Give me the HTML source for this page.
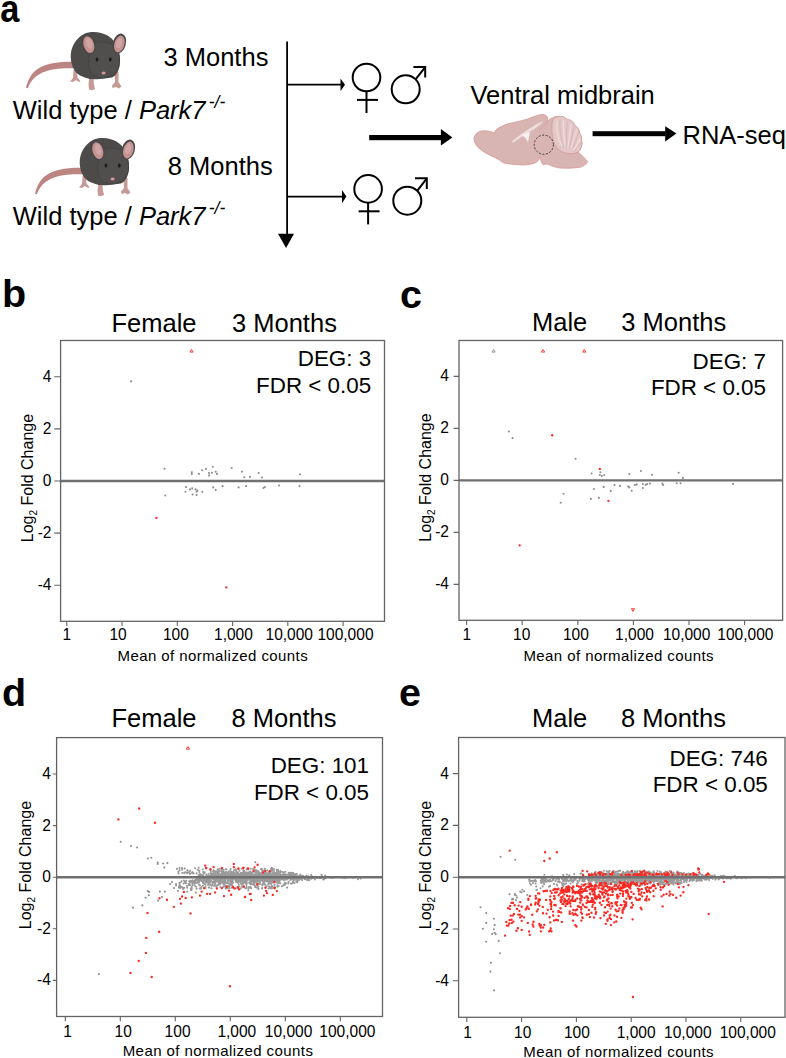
<!DOCTYPE html>
<html><head><meta charset="utf-8"><style>
html,body{margin:0;padding:0;background:#fff;overflow:hidden;width:786px;height:1058px;}
svg{display:block;font-family:"Liberation Sans", sans-serif;}
</style></head><body>
<svg width="786" height="1058" viewBox="0 0 786 1058">

<defs>
<g id="mouse">
  <path d="M73,61.8 C61,61.5 49,63 40,67.5 C32.5,71.5 28,79 26,87.8 L27.9,88.2 C30.5,81 35,76 42.5,72.5 C51,68.8 61,68 73,68.3 Z" fill="#bd8582"/>
  <path d="M73.5,70 L77,70 L77.5,77.5 L80.5,81 L79,82 L76,80 L73,82 L70,81.5 L73,78 Z" fill="#c69a96"/>
  <path d="M89.5,76 L93.5,76 L93.8,83.5 L95,89 L92,90.3 L89,89.5 L88.5,84 Z" fill="#c69a96"/>
  <path d="M114.5,72 L118.5,72 L118.5,82 L121.5,86.5 L119,88.5 L116,87 L112.5,88 L112,85.5 L115,82 Z" fill="#c69a96"/>
  <path d="M88.6,72 L94,72 L94,79 L89,79 Z" fill="#4a4846"/>
  <path d="M93.8,32 C104,32 112,37 115,43 C119,49 120.5,56 120,62 C119.5,70 117,75 112,77.5 L100,79 C92,80 86,78.5 80,75.5 C74,72 71,65 70.7,57 C70.5,47 76,38 84,34 C87,32.5 90,32 93.8,32 Z" fill="#4d4b49"/>
  <path d="M95,42.5 C101,41.5 108,42 113,44.5 C118,49 120,56 119.5,63 C119,71 113,77 104,78 C97,78.5 92,75 90,70 C88,65 88.5,59 89.5,55 C90.5,49 92,44 95,42.5 Z" fill="#514f4d" stroke="#3f3d3b" stroke-width="0.6"/>
  <ellipse cx="0" cy="0" rx="6.9" ry="10.3" fill="#4a4846" transform="translate(88.6,44.2) rotate(-16)"/>
  <ellipse cx="0" cy="0" rx="5.2" ry="8.6" fill="#c39291" transform="translate(88.8,44.6) rotate(-16)"/>
  <ellipse cx="0" cy="0" rx="3" ry="5.5" fill="#d0a5a4" transform="translate(89.2,43.5) rotate(-16)"/>
  <ellipse cx="0" cy="0" rx="6.5" ry="10.3" fill="#4a4846" transform="translate(119.3,43.6) rotate(16)"/>
  <ellipse cx="0" cy="0" rx="5" ry="8.6" fill="#c39291" transform="translate(119.4,44) rotate(16)"/>
  <ellipse cx="0" cy="0" rx="2.9" ry="5.5" fill="#d0a5a4" transform="translate(119.2,43) rotate(16)"/>
  <ellipse cx="97" cy="59.6" rx="1.4" ry="2.1" fill="#1c1c1c"/>
  <ellipse cx="110.3" cy="59.6" rx="1.4" ry="2.1" fill="#1c1c1c"/>
  <ellipse cx="103.6" cy="73" rx="2.1" ry="1.6" fill="#d39494"/>
</g>
<g id="sym" fill="none" stroke="#000" stroke-width="2">
  <circle cx="366.5" cy="77.5" r="13.8"/>
  <line x1="366.5" y1="91.3" x2="366.5" y2="113"/>
  <line x1="357" y1="99.9" x2="378" y2="99.9"/>
  <circle cx="405.7" cy="89.3" r="14"/>
  <line x1="415.6" y1="79.4" x2="425" y2="67.3"/>
  <polyline points="413.4,66.9 425.2,66.9 425.2,77.5"/>
</g>
<g id="brain">
  <path d="M474,138.5 C474.5,134 478.5,131 483.2,130.8 C487.5,130.5 491,131.5 494.4,133 C495,130.5 496.5,128.8 499,127.8 C503,125.5 507,124 510.7,123.2 C516,122 521.5,120.8 527,119.2 C532,117.5 537,115 541.2,114.6 C544.5,114.3 547,115.5 547.6,117.8 C548,119.5 547.5,121 546.6,122.3 C548.5,120 550.5,118.5 552.5,118 C554,117 556,116.3 558.9,116.3 C563,116.5 566,118 568,120.5 C571.5,121.5 574,123.5 575,126.8 C578,128.5 579.3,130.8 579.3,133.1 C581,135 581.6,137.5 581.3,140.1 C582,142.5 582,144.5 581.3,146.4 C581,149 579.5,151 577.8,152 C581,154.5 584.5,157.5 587.6,161.8 C585.5,165 582.5,167 579.2,167.4 C573,168.2 567,168.3 561,168.1 C557,167.8 553.5,166.8 550.5,165.3 C548,164 545.5,163.5 543.3,164.9 C541.5,163.5 540.5,160 540.2,156.8 C539,159.5 537.5,162 535.1,162.9 C530.5,164.5 525.5,165.2 520.9,164.9 C515,164.7 509,164 503.6,162.9 C500.5,161 498,159 495.4,157.8 C491,155.8 486,153.5 482.2,150.7 C478,148 474,143.5 474,138.5 Z" fill="#d8b4b2" stroke="#d69896" stroke-width="0.8"/>
  <path d="M546.6,122.3 C544.5,125 542,128 539.2,130.3" fill="none" stroke="#d39a98" stroke-width="0.7"/>
  <path d="M552,127 C551.5,122 553,118.5 557,116.8 C561,115.5 565,117 567.5,119.5 C571,119.5 574,122 575,125.5 C578,127 579.5,130 579.5,133 C581.5,135 582,138 581.5,140.5 C582.5,143 582,146 581,147.5 C580.5,150 579,152 577,152.5 C574,154 570,154 567.5,153.3 C563,153 560,151 558.5,149 C555,146 553.5,142 553,139 C552,135 551.8,131 552,127 Z" fill="#e2c8c7" stroke="#d69896" stroke-width="0.8"/>
  <g stroke="#ecdcdb" stroke-width="1.3" fill="none" stroke-linecap="round">
    <path d="M562,146 C558,139 556,130 557,121"/>
    <path d="M565,146 C564,137 563,128 563.5,121"/>
    <path d="M568,147 C569,139 570,131 571,124"/>
    <path d="M571,148 C573,142 575,135 576.5,130"/>
    <path d="M573,150 C576,147 578.5,143 579.5,139"/>
  </g>
  <g stroke="#d7a9a7" stroke-width="0.6" fill="none" stroke-linecap="round">
    <path d="M563.5,147 C561,139 559.5,130 560,120"/>
    <path d="M566.5,147 C566.5,139 566.5,130 567.5,121"/>
    <path d="M569.5,148 C571,141 573,133 574,126"/>
    <path d="M572,149 C574.5,144 577,138 578.5,133"/>
    <path d="M574,151 C577,149 579.5,146 580.5,143"/>
  </g>
  <path d="M511.7,141.5 C517,137 524,132 531,127.5 C536,124.5 540,122 543.3,121.2 C541.5,123.8 538,126.5 533.5,129.5 C526,134 519,138.5 513.5,142.8 Z" fill="#ebdedd"/>
  <path d="M520.9,134.9 L530,131.9 L528,142.5 C527,139 524.5,136.5 520.9,134.9 Z" fill="#f7efef"/>
  <circle cx="543.8" cy="144.7" r="9.6" fill="none" stroke="#333" stroke-width="0.9" stroke-dasharray="2.1,1.5"/>
</g>
</defs>

<text x="0" y="21.8" font-size="39.5" font-weight="bold" transform="translate(0.2,0) scale(0.87,1)">a</text>
<use href="#mouse" x="0" y="0"/>
<use href="#mouse" x="9" y="106"/>
<text x="163.50" y="66.30" font-size="25.5" text-anchor="start" font-weight="normal" font-style="normal" fill="#000" >3 Months</text>
<text x="167.80" y="174.90" font-size="25.5" text-anchor="start" font-weight="normal" font-style="normal" fill="#000" >8 Months</text>
<text x="12.8" y="119.0" font-size="25.5">Wild type / <tspan font-style="italic">Park7</tspan><tspan font-style="italic" font-size="17.5" dy="-11" dx="3.2">-/-</tspan></text>
<text x="12.8" y="224.8" font-size="25.5">Wild type / <tspan font-style="italic">Park7</tspan><tspan font-style="italic" font-size="17.5" dy="-11" dx="3.2">-/-</tspan></text>
<g stroke="#000" stroke-width="1.8" fill="none">
<line x1="287.1" y1="41.6" x2="287.1" y2="236"/>
<line x1="287.1" y1="84.7" x2="341" y2="84.7"/>
<line x1="287.1" y1="196.6" x2="342.5" y2="196.6"/>
</g>
<polygon points="278,233.7 294,233.7 286.1,248" fill="#000"/>
<polygon points="340.5,78.5 345,84.7 340.5,91" fill="#000"/>
<polygon points="342,190.1 346.4,196.6 342,203.3" fill="#000"/>
<use href="#sym" x="0" y="0"/>
<use href="#sym" x="1.6" y="111.4"/>
<rect x="369.2" y="135" width="72" height="5.2" fill="#000"/>
<polygon points="440.9,129.1 452.4,137.5 440.9,145.4" fill="#000"/>
<rect x="592.6" y="131.2" width="73" height="5" fill="#000"/>
<polygon points="665.2,126.2 676.4,133.6 665.2,141.4" fill="#000"/>
<text x="470.50" y="104.00" font-size="25.5" text-anchor="start" font-weight="normal" font-style="normal" fill="#000" >Ventral midbrain</text>
<text x="682.50" y="144.00" font-size="25.5" text-anchor="start" font-weight="normal" font-style="normal" fill="#000" >RNA-seq</text>
<use href="#brain"/>
<text x="2.0" y="307.0" font-size="39.5" font-weight="bold">b</text>
<text x="111.50" y="331.70" font-size="25.5" text-anchor="start" font-weight="normal" font-style="normal" fill="#000" >Female</text>
<text x="232.00" y="331.70" font-size="25.5" text-anchor="start" font-weight="normal" font-style="normal" fill="#000" >3 Months</text>
<clipPath id="clipb"><rect x="60.6" y="340.5" width="323.9" height="280.79999999999995"/></clipPath>
<g clip-path="url(#clipb)">
<path d="M131.1,381.4h0M164.5,468.7h0M191.8,472.2h0M191.8,474.1h0M198.9,473.9h0M202.1,470.3h0M206.0,468.9h0M209.0,473.1h0M209.0,475.6h0M211.9,472.7h0M212.8,466.8h0M215.7,471.8h0M217.0,473.9h0M231.7,468.0h0M242.0,471.6h0M244.3,477.3h0M250.0,476.9h0M258.6,473.1h0M262.1,477.5h0M300.0,474.3h0M165.3,495.5h0M185.5,491.8h0M186.1,487.1h0M189.9,489.4h0M192.2,488.4h0M192.6,494.5h0M195.5,489.4h0M196.6,491.8h0M197.4,490.5h0M196.6,495.1h0M202.3,491.8h0M213.2,487.4h0M215.7,489.9h0M222.7,486.1h0M238.6,487.4h0M246.0,486.1h0M263.4,488.0h0M264.9,487.1h0M279.0,485.5h0M299.5,486.1h0" stroke="#8e8e8e" stroke-width="2.1" stroke-linecap="round" fill="none"/>
<path d="M156.4,517.8h0M226.3,587.3h0" stroke="#fa2a22" stroke-width="2.35" stroke-linecap="round" fill="none"/>
<polygon points="189.9,352.1 193.1,352.1 191.5,349.4" fill="none" stroke="#fa2a22" stroke-width="0.9"/>
<line x1="60.6" y1="481.0" x2="384.5" y2="481.0" stroke="#707070" stroke-width="2.4"/>
</g>
<rect x="60.6" y="340.5" width="323.9" height="280.79999999999995" fill="none" stroke="#646464" stroke-width="1.3"/>
<text x="51.50" y="590.20" font-size="16.2" text-anchor="end" font-weight="normal" font-style="normal" fill="#000" transform="translate(2.06,0) scale(0.96,1)">-4</text>
<text x="51.50" y="538.10" font-size="16.2" text-anchor="end" font-weight="normal" font-style="normal" fill="#000" transform="translate(2.06,0) scale(0.96,1)">-2</text>
<text x="51.50" y="486.00" font-size="16.2" text-anchor="end" font-weight="normal" font-style="normal" fill="#000" transform="translate(2.06,0) scale(0.96,1)">0</text>
<text x="51.50" y="433.90" font-size="16.2" text-anchor="end" font-weight="normal" font-style="normal" fill="#000" transform="translate(2.06,0) scale(0.96,1)">2</text>
<text x="51.50" y="381.80" font-size="16.2" text-anchor="end" font-weight="normal" font-style="normal" fill="#000" transform="translate(2.06,0) scale(0.96,1)">4</text>
<text x="65.10" y="640.20" font-size="16.2" text-anchor="start" font-weight="normal" font-style="normal" fill="#000" transform="scale(0.96,1)">1</text>
<text x="113.96" y="640.20" font-size="16.2" text-anchor="start" font-weight="normal" font-style="normal" fill="#000" transform="scale(0.96,1)">10</text>
<text x="169.69" y="640.20" font-size="16.2" text-anchor="start" font-weight="normal" font-style="normal" fill="#000" transform="scale(0.96,1)">100</text>
<text x="222.92" y="640.20" font-size="16.2" text-anchor="start" font-weight="normal" font-style="normal" fill="#000" transform="scale(0.96,1)">1,000</text>
<text x="276.56" y="640.20" font-size="16.2" text-anchor="start" font-weight="normal" font-style="normal" fill="#000" transform="scale(0.96,1)">10,000</text>
<text x="330.62" y="640.20" font-size="16.2" text-anchor="start" font-weight="normal" font-style="normal" fill="#000" transform="scale(0.96,1)">100,000</text>
<path d="M54.3,585.2H60.6M54.3,533.1H60.6M54.3,481.0H60.6M54.3,428.9H60.6M54.3,376.8H60.6M66.8,621.3V626.0M122.0,621.3V626.0M177.3,621.3V626.0M232.6,621.3V626.0M287.8,621.3V626.0M343.1,621.3V626.0" stroke="#646464" stroke-width="1.1" fill="none"/>
<text x="117.50" y="661.20" font-size="15.0" text-anchor="start" font-weight="normal" font-style="normal" fill="#000" textLength="190.2" lengthAdjust="spacing">Mean of normalized counts</text>
<text transform="translate(33.2,478.1) rotate(-90)" x="0" y="0" font-size="16" text-anchor="middle">Log<tspan font-size="10" dy="4">2</tspan><tspan dy="-4"> Fold Change</tspan></text>
<text x="371.20" y="366.20" font-size="22.4" text-anchor="end" font-weight="normal" font-style="normal" fill="#000" >DEG: 3</text>
<text x="371.20" y="392.80" font-size="22.4" text-anchor="end" font-weight="normal" font-style="normal" fill="#000" >FDR &lt; 0.05</text>
<text x="400.0" y="307.5" font-size="39.5" font-weight="bold">c</text>
<text x="532.00" y="330.90" font-size="25.5" text-anchor="start" font-weight="normal" font-style="normal" fill="#000" >Male</text>
<text x="621.30" y="330.90" font-size="25.5" text-anchor="start" font-weight="normal" font-style="normal" fill="#000" >3 Months</text>
<clipPath id="clipc"><rect x="459" y="340.5" width="323.6" height="279.79999999999995"/></clipPath>
<g clip-path="url(#clipc)">
<path d="M508.9,431.5h0M512.6,438.1h0M575.6,458.8h0M600.4,472.2h0M591.6,473.5h0M599.8,475.0h0M601.8,476.0h0M604.2,475.0h0M629.4,474.1h0M640.9,471.0h0M651.9,474.7h0M678.7,472.7h0M682.9,477.9h0M563.6,493.7h0M560.7,502.7h0M593.9,489.0h0M590.9,498.9h0M598.9,497.9h0M603.7,486.9h0M610.7,490.9h0M614.5,485.0h0M619.9,485.9h0M628.1,486.5h0M629.4,487.4h0M631.7,490.7h0M634.8,485.0h0M636.7,484.4h0M642.8,484.0h0M642.8,488.0h0M645.6,485.0h0M647.2,484.0h0M650.0,483.6h0M662.4,483.6h0M663.2,485.0h0M676.8,483.2h0M680.6,483.2h0M733.1,483.9h0" stroke="#8e8e8e" stroke-width="2.1" stroke-linecap="round" fill="none"/>
<path d="M552.2,435.2h0M599.8,468.9h0M608.4,500.8h0M519.6,545.3h0" stroke="#fa2a22" stroke-width="2.35" stroke-linecap="round" fill="none"/>
<polygon points="492.0,352.1 495.2,352.1 493.6,349.4" fill="none" stroke="#8e8e8e" stroke-width="0.9"/>
<polygon points="541.5,352.1 544.7,352.1 543.1,349.4" fill="none" stroke="#fa2a22" stroke-width="0.9"/>
<polygon points="582.7,352.1 585.9,352.1 584.3,349.4" fill="none" stroke="#fa2a22" stroke-width="0.9"/>
<polygon points="631.4,608.7 634.6,608.7 633.0,611.4" fill="none" stroke="#fa2a22" stroke-width="0.9"/>
<line x1="459" y1="480.4" x2="782.6" y2="480.4" stroke="#707070" stroke-width="2.4"/>
</g>
<rect x="459" y="340.5" width="323.6" height="279.79999999999995" fill="none" stroke="#646464" stroke-width="1.3"/>
<text x="449.00" y="589.40" font-size="16.2" text-anchor="end" font-weight="normal" font-style="normal" fill="#000" transform="translate(17.96,0) scale(0.96,1)">-4</text>
<text x="449.00" y="537.40" font-size="16.2" text-anchor="end" font-weight="normal" font-style="normal" fill="#000" transform="translate(17.96,0) scale(0.96,1)">-2</text>
<text x="449.00" y="485.40" font-size="16.2" text-anchor="end" font-weight="normal" font-style="normal" fill="#000" transform="translate(17.96,0) scale(0.96,1)">0</text>
<text x="449.00" y="433.40" font-size="16.2" text-anchor="end" font-weight="normal" font-style="normal" fill="#000" transform="translate(17.96,0) scale(0.96,1)">2</text>
<text x="449.00" y="381.40" font-size="16.2" text-anchor="end" font-weight="normal" font-style="normal" fill="#000" transform="translate(17.96,0) scale(0.96,1)">4</text>
<text x="481.77" y="640.20" font-size="16.2" text-anchor="start" font-weight="normal" font-style="normal" fill="#000" transform="scale(0.96,1)">1</text>
<text x="534.38" y="640.20" font-size="16.2" text-anchor="start" font-weight="normal" font-style="normal" fill="#000" transform="scale(0.96,1)">10</text>
<text x="586.35" y="640.20" font-size="16.2" text-anchor="start" font-weight="normal" font-style="normal" fill="#000" transform="scale(0.96,1)">100</text>
<text x="640.73" y="640.20" font-size="16.2" text-anchor="start" font-weight="normal" font-style="normal" fill="#000" transform="scale(0.96,1)">1,000</text>
<text x="690.52" y="640.20" font-size="16.2" text-anchor="start" font-weight="normal" font-style="normal" fill="#000" transform="scale(0.96,1)">10,000</text>
<text x="747.19" y="640.20" font-size="16.2" text-anchor="start" font-weight="normal" font-style="normal" fill="#000" transform="scale(0.96,1)">100,000</text>
<path d="M453.6,584.4H459M453.6,532.4H459M453.6,480.4H459M453.6,428.4H459M453.6,376.4H459M466.6,620.3V625.0M522.2,620.3V625.0M577.8,620.3V625.0M633.4,620.3V625.0M689.0,620.3V625.0M744.6,620.3V625.0" stroke="#646464" stroke-width="1.1" fill="none"/>
<text x="523.40" y="661.30" font-size="15.0" text-anchor="start" font-weight="normal" font-style="normal" fill="#000" textLength="190.2" lengthAdjust="spacing">Mean of normalized counts</text>
<text transform="translate(431.2,477.5) rotate(-90)" x="0" y="0" font-size="16" text-anchor="middle">Log<tspan font-size="10" dy="4">2</tspan><tspan dy="-4"> Fold Change</tspan></text>
<text x="766.00" y="368.80" font-size="22.4" text-anchor="end" font-weight="normal" font-style="normal" fill="#000" >DEG: 7</text>
<text x="766.00" y="395.10" font-size="22.4" text-anchor="end" font-weight="normal" font-style="normal" fill="#000" >FDR &lt; 0.05</text>
<text x="2.0" y="705.5" font-size="39.5" font-weight="bold">d</text>
<text x="111.50" y="726.50" font-size="25.5" text-anchor="start" font-weight="normal" font-style="normal" fill="#000" >Female</text>
<text x="231.60" y="726.50" font-size="25.5" text-anchor="start" font-weight="normal" font-style="normal" fill="#000" >8 Months</text>
<clipPath id="clipd"><rect x="56.6" y="737.6" width="325.9" height="278.9"/></clipPath>
<g clip-path="url(#clipd)">
<path d="M289.8,877.3h0M250.9,874.6h0M206.3,876.0h0M250.2,880.4h0M235.4,878.0h0M221.0,881.3h0M323.3,879.5h0M301.7,878.7h0M189.4,871.9h0M272.2,876.7h0M205.4,884.7h0M230.6,872.9h0M233.1,879.2h0M234.6,878.0h0M268.8,872.9h0M210.6,879.0h0M269.2,882.1h0M270.9,877.2h0M300.4,878.7h0M230.9,879.4h0M239.0,886.6h0M198.1,881.9h0M265.6,888.0h0M225.0,878.3h0M249.1,878.5h0M215.8,876.5h0M274.6,875.9h0M223.3,879.1h0M275.7,875.1h0M203.9,880.1h0M236.7,874.9h0M231.4,878.1h0M283.3,875.8h0M280.6,876.3h0M304.9,877.1h0M249.1,874.1h0M294.7,878.2h0M284.3,874.6h0M263.5,876.5h0M239.7,881.8h0M250.7,877.4h0M215.1,882.9h0M268.7,880.9h0M232.6,882.1h0M231.4,881.5h0M213.3,874.0h0M281.8,876.4h0M201.7,874.5h0M245.3,876.5h0M280.6,875.3h0M296.5,876.2h0M257.0,877.0h0M283.3,877.3h0M316.9,878.0h0M269.2,871.7h0M226.1,876.8h0M192.6,880.4h0M292.3,879.0h0M269.2,880.7h0M281.1,871.8h0M242.8,878.8h0M212.2,878.8h0M272.1,869.3h0M203.2,875.2h0M221.8,872.6h0M216.8,878.2h0M233.9,879.5h0M230.7,883.6h0M273.8,873.0h0M242.2,879.4h0M223.6,880.8h0M264.4,874.1h0M276.7,869.9h0M252.6,878.5h0M232.9,882.5h0M215.1,876.4h0M210.3,881.0h0M238.7,879.2h0M212.3,882.9h0M221.8,879.3h0M214.0,879.4h0M269.1,874.4h0M214.2,885.9h0M284.6,877.4h0M280.9,875.2h0M273.0,876.7h0M227.5,873.0h0M198.2,879.4h0M237.4,879.8h0M294.8,877.6h0M259.9,883.9h0M258.9,875.2h0M250.1,876.4h0M282.9,872.1h0M274.1,873.1h0M228.3,880.2h0M263.7,875.2h0M225.6,873.8h0M239.2,881.5h0M269.2,876.2h0M253.3,877.1h0M224.9,878.2h0M250.6,877.5h0M229.8,883.5h0M212.3,878.0h0M288.5,882.2h0M305.0,878.0h0M304.3,878.1h0M237.8,876.3h0M275.6,881.2h0M252.2,877.5h0M263.2,878.8h0M223.3,876.4h0M295.4,876.3h0M257.7,887.5h0M273.4,873.4h0M264.7,884.4h0M206.2,881.8h0M295.6,878.4h0M265.0,873.0h0M244.7,874.1h0M262.7,876.1h0M252.2,875.8h0M216.2,880.4h0M213.6,881.5h0M274.4,877.4h0M282.4,878.2h0M231.7,879.6h0M252.5,883.8h0M252.4,877.5h0M285.1,875.8h0M216.9,876.6h0M223.8,870.0h0M284.3,874.4h0M242.0,880.3h0M196.9,879.0h0M244.5,874.6h0M225.6,881.9h0M265.9,877.9h0M262.8,878.8h0M227.9,878.2h0M243.8,872.7h0M213.7,878.5h0M215.2,879.4h0M274.0,881.1h0M239.8,875.3h0M286.0,877.8h0M226.4,869.3h0M211.6,885.7h0M225.9,878.9h0M278.2,877.8h0M269.2,872.8h0M294.5,883.0h0M221.2,873.9h0M228.6,874.5h0M266.0,877.4h0M263.2,879.2h0M269.6,874.9h0M263.0,881.6h0M234.8,878.9h0M243.2,872.4h0M313.6,878.0h0M278.9,877.3h0M192.8,873.2h0M274.4,878.2h0M239.0,876.8h0M282.9,877.7h0M213.8,882.6h0M258.8,876.5h0M259.2,873.4h0M251.4,873.9h0M280.4,883.3h0M264.8,869.7h0M279.5,876.9h0M300.3,875.9h0M272.2,880.0h0M304.5,877.5h0M235.6,875.5h0M240.3,877.9h0M293.1,872.7h0M235.0,879.1h0M287.5,879.2h0M294.0,874.0h0M251.7,881.1h0M292.0,874.7h0M214.3,876.7h0M269.6,874.0h0M206.3,880.3h0M266.5,875.1h0M192.1,882.4h0M245.0,876.7h0M262.8,881.4h0M259.3,877.0h0M245.5,879.4h0M252.1,880.8h0M252.8,879.6h0M275.8,872.8h0M245.3,875.0h0M291.3,874.7h0M314.8,877.3h0M310.3,877.4h0M285.5,875.7h0M233.3,873.8h0M238.0,874.5h0M268.6,888.5h0M239.2,875.5h0M278.1,881.3h0M278.8,881.7h0M247.9,875.4h0M224.4,877.5h0M318.6,877.5h0M250.5,871.6h0M237.1,877.9h0M288.3,874.5h0M237.7,876.6h0M302.7,877.2h0M219.9,874.7h0M265.5,881.2h0M206.2,880.1h0M211.2,874.6h0M212.9,882.4h0M232.6,873.9h0M255.5,875.8h0M293.1,873.3h0M292.8,882.0h0M311.0,877.5h0M265.4,880.1h0M281.1,877.3h0M227.8,879.1h0M267.2,875.2h0M261.1,879.3h0M225.7,888.4h0M202.4,879.3h0M280.2,878.8h0M220.2,884.5h0M234.6,874.2h0M270.7,887.2h0M293.7,874.9h0M277.0,877.9h0M194.6,885.5h0M255.8,878.9h0M256.6,887.5h0M271.0,869.1h0M273.1,881.0h0M236.0,878.5h0M274.9,879.2h0M234.2,877.8h0M259.9,876.0h0M233.5,873.8h0M258.6,881.3h0M253.3,884.7h0M261.3,878.1h0M240.1,874.7h0M256.8,880.5h0M237.5,872.2h0M252.7,874.8h0M204.7,880.8h0M289.5,873.1h0M195.4,882.3h0M221.3,876.2h0M277.5,886.6h0M263.7,876.9h0M237.0,874.6h0M200.1,878.6h0M264.3,875.3h0M268.3,881.3h0M319.4,878.1h0M267.0,873.3h0M257.3,878.2h0M255.7,877.8h0M292.4,876.3h0M256.9,878.5h0M314.9,879.5h0M203.6,878.1h0M210.5,870.2h0M272.3,876.0h0M258.4,878.1h0M208.5,876.1h0M284.8,879.3h0M232.1,877.2h0M285.4,875.9h0M225.9,869.1h0M271.3,884.0h0M245.4,879.8h0M256.5,870.4h0M236.2,870.5h0M260.2,880.1h0M311.2,878.1h0M286.3,876.7h0M236.0,880.0h0M250.9,879.7h0M274.8,874.3h0M237.1,878.8h0M281.7,879.3h0M238.9,877.2h0M222.2,876.9h0M259.0,881.1h0M277.3,879.9h0M259.1,881.2h0M216.6,885.6h0M245.4,875.0h0M252.1,879.4h0M244.3,877.6h0M222.7,882.8h0M255.3,879.0h0M216.0,871.2h0M265.6,877.3h0M195.9,879.6h0M272.0,877.8h0M250.2,879.9h0M297.4,876.3h0M220.8,875.9h0M285.5,875.6h0M235.8,877.6h0M285.8,878.5h0M283.7,884.5h0M232.2,878.6h0M228.1,875.1h0M304.8,879.3h0M215.0,880.0h0M256.9,876.3h0M242.3,884.4h0M244.3,872.4h0M266.7,886.2h0M238.9,873.8h0M270.4,877.3h0M283.6,880.0h0M244.1,887.0h0M226.6,876.3h0M219.6,882.1h0M246.8,879.0h0M232.9,873.7h0M225.1,874.9h0M258.6,876.1h0M271.3,877.1h0M274.5,884.9h0M243.6,882.4h0M249.4,876.0h0M267.6,878.4h0M312.8,877.9h0M251.6,875.9h0M263.5,877.0h0M269.6,880.0h0M320.0,877.3h0M223.3,871.4h0M290.2,880.0h0M280.2,871.0h0M258.5,880.7h0M290.3,875.1h0M231.6,882.8h0M258.4,883.8h0M260.2,875.8h0M275.8,875.2h0M200.8,880.5h0M275.0,887.4h0M264.3,873.8h0M216.5,879.5h0M260.2,875.3h0M192.2,881.9h0M223.8,878.8h0M247.4,872.7h0M218.8,882.7h0M264.6,881.0h0M261.6,880.2h0M290.4,878.0h0M234.7,876.9h0M226.3,878.0h0M228.4,879.9h0M227.9,878.1h0M282.7,877.1h0M227.3,876.5h0M241.0,872.9h0M290.6,876.2h0M223.6,870.5h0M242.9,882.0h0M216.7,879.9h0M262.0,878.1h0M260.2,882.3h0M254.5,874.9h0M253.1,881.4h0M271.2,878.7h0M215.5,871.6h0M243.1,882.1h0M271.7,879.1h0M299.3,876.9h0M192.4,872.1h0M279.6,880.9h0M272.2,875.6h0M247.6,875.1h0M199.6,875.6h0M271.7,881.9h0M290.7,877.0h0M233.6,871.7h0M222.9,877.1h0M264.6,876.1h0M284.2,875.5h0M231.0,877.9h0M324.8,877.4h0M215.2,882.7h0M282.5,874.6h0M261.6,873.7h0M220.4,883.5h0M252.5,875.1h0M218.5,878.9h0M236.1,881.3h0M311.8,876.4h0M247.4,879.9h0M237.9,882.7h0M298.2,877.8h0M226.2,875.1h0M199.1,879.7h0M230.4,877.4h0M218.1,880.3h0M207.8,879.7h0M243.1,876.3h0M229.0,887.0h0M270.2,879.5h0M217.0,878.7h0M279.1,878.6h0M223.5,884.5h0M230.6,874.2h0M238.2,872.5h0M220.2,878.6h0M221.8,878.4h0M206.8,875.9h0M220.4,877.4h0M243.8,878.3h0M267.2,878.2h0M220.4,881.8h0M205.7,877.9h0M225.3,878.7h0M275.8,879.0h0M283.4,876.6h0M226.1,882.3h0M193.6,882.8h0M287.7,877.0h0M263.4,879.3h0M227.9,881.1h0M221.5,871.0h0M283.5,872.4h0M276.3,878.4h0M264.9,874.5h0M251.4,878.5h0M244.0,878.7h0M232.6,877.6h0M284.6,879.7h0M215.5,877.0h0M267.9,876.8h0M238.3,872.8h0M270.3,880.5h0M206.4,874.6h0M276.6,879.4h0M227.5,877.5h0M271.6,880.0h0M237.4,886.9h0M266.1,880.5h0M228.1,876.6h0M207.1,882.4h0M299.3,879.1h0M251.8,875.4h0M242.2,875.7h0M230.7,879.0h0M263.1,877.6h0M199.6,874.4h0M307.8,880.2h0M235.7,878.4h0M240.4,878.3h0M262.2,879.3h0M239.2,878.1h0M222.9,887.3h0M210.7,873.0h0M250.6,887.1h0M238.2,878.6h0M217.9,885.3h0M287.7,877.0h0M227.1,875.0h0M252.6,877.5h0M239.0,877.7h0M226.1,876.9h0M229.6,874.4h0M224.0,875.8h0M222.2,880.8h0M277.0,871.4h0M219.6,871.3h0M198.6,875.3h0M206.1,878.9h0M263.4,879.7h0M236.7,875.4h0M215.3,874.3h0M289.4,873.9h0M196.6,888.8h0M250.8,877.8h0M278.3,875.4h0M284.0,879.7h0M212.6,884.5h0M202.9,885.7h0M223.4,877.0h0M212.5,883.0h0M208.8,887.5h0M268.9,874.4h0M264.6,873.3h0M300.0,876.5h0M206.4,868.4h0M227.0,882.4h0M250.4,876.5h0M255.7,871.2h0M293.2,878.2h0M214.3,880.9h0M227.8,882.8h0M294.3,879.7h0M257.9,878.6h0M226.1,871.9h0M270.1,880.8h0M280.9,878.1h0M200.6,874.6h0M245.4,875.5h0M243.0,881.6h0M259.4,878.6h0M243.2,881.8h0M219.7,868.8h0M242.7,874.8h0M277.9,876.2h0M262.8,875.7h0M206.4,882.4h0M278.4,879.4h0M208.6,879.6h0M227.3,875.4h0M238.6,881.9h0M291.1,879.6h0M237.6,876.2h0M300.2,878.8h0M261.0,880.3h0M228.8,877.6h0M211.7,873.8h0M210.0,879.7h0M257.6,878.1h0M241.6,886.3h0M204.0,883.6h0M269.0,879.4h0M251.0,883.3h0M277.8,876.8h0M244.9,881.8h0M255.0,885.5h0M279.5,877.2h0M217.4,879.9h0M237.4,877.7h0M230.4,877.3h0M269.4,883.5h0M260.5,876.4h0M231.3,872.6h0M290.9,874.6h0M272.0,877.3h0M258.3,873.7h0M208.9,876.6h0M252.7,878.0h0M229.3,883.8h0M233.5,872.3h0M267.7,879.2h0M257.0,876.3h0M309.1,878.3h0M235.0,876.4h0M220.7,877.8h0M261.5,873.6h0M266.5,878.1h0M262.0,876.2h0M283.3,878.2h0M213.0,871.3h0M258.1,878.6h0M259.6,872.9h0M234.0,874.8h0M265.5,877.9h0M292.3,883.2h0M225.2,879.3h0M252.6,880.2h0M251.1,888.3h0M234.9,869.6h0M255.3,875.3h0M200.0,888.4h0M230.5,871.0h0M283.3,878.2h0M273.4,875.5h0M235.5,869.2h0M230.2,879.6h0M242.5,875.6h0M206.6,875.6h0M243.0,880.4h0M267.9,880.9h0M238.1,878.4h0M256.8,879.8h0M228.9,879.0h0M224.3,880.5h0M247.7,875.9h0M218.9,880.6h0M231.3,878.4h0M214.0,879.5h0M248.9,887.4h0M205.3,882.1h0M231.7,874.7h0M262.8,880.5h0M303.3,876.0h0M284.5,877.1h0M273.7,882.5h0M262.1,888.5h0M204.2,873.5h0M200.6,879.5h0M268.9,873.8h0M238.3,882.7h0M249.5,872.3h0M221.8,869.8h0M240.2,878.3h0M191.8,886.9h0M264.4,881.5h0M284.9,876.2h0M270.8,878.7h0M229.0,877.6h0M251.1,884.3h0M209.4,887.5h0M277.4,885.4h0M285.2,876.5h0M297.2,882.2h0M218.3,876.9h0M287.2,876.8h0M261.7,868.7h0M263.8,874.8h0M218.2,869.9h0M204.0,880.0h0M219.7,876.1h0M269.8,875.8h0M214.8,873.3h0M296.7,876.6h0M236.9,873.4h0M233.8,876.8h0M202.9,882.6h0M199.5,881.3h0M224.8,880.1h0M269.2,881.3h0M224.1,880.2h0M246.7,874.7h0M227.0,888.4h0M248.4,873.7h0M293.1,881.8h0M201.9,875.9h0M253.5,878.0h0M228.5,886.1h0M246.2,876.4h0M246.7,875.8h0M234.0,870.1h0M311.2,875.0h0M233.9,877.3h0M311.4,876.9h0M258.9,880.1h0M283.7,876.5h0M260.8,873.7h0M269.3,874.9h0M271.9,870.9h0M220.5,880.7h0M285.8,877.0h0M285.0,882.9h0M233.9,875.0h0M197.6,879.0h0M229.2,876.7h0M233.1,882.7h0M231.8,880.0h0M295.6,874.3h0M233.5,878.2h0M236.0,873.9h0M265.4,876.9h0M218.7,870.7h0M311.4,878.8h0M256.6,872.3h0M272.3,877.7h0M217.7,874.7h0M291.3,879.1h0M214.1,875.6h0M260.9,878.9h0M205.7,880.0h0M223.1,878.0h0M290.3,872.8h0M274.5,875.6h0M228.5,871.5h0M244.1,880.3h0M218.9,883.5h0M259.3,881.3h0M222.5,876.2h0M236.6,877.1h0M255.2,875.2h0M197.0,879.3h0M299.5,875.7h0M285.4,871.7h0M220.5,875.4h0M285.5,879.5h0M249.5,877.1h0M291.4,873.2h0M283.8,880.2h0M245.9,875.2h0M277.3,878.2h0M277.6,886.5h0M272.4,876.1h0M252.8,878.3h0M232.1,880.7h0M263.6,876.9h0M266.9,877.9h0M278.4,883.3h0M278.8,877.3h0M246.2,873.3h0M269.3,876.6h0M246.0,883.8h0M199.4,870.7h0M222.0,877.2h0M284.1,877.3h0M245.5,882.9h0M211.9,878.2h0M235.7,881.0h0M260.1,878.8h0M247.9,876.1h0M298.9,880.3h0M251.0,879.8h0M208.8,880.1h0M231.1,878.2h0M240.8,881.7h0M242.5,880.9h0M278.9,883.0h0M246.7,879.0h0M203.4,880.9h0M264.4,871.6h0M207.7,879.1h0M300.4,877.2h0M217.9,881.4h0M269.7,886.8h0M234.1,877.8h0M306.6,879.6h0M267.3,877.3h0M250.6,881.7h0M206.2,882.8h0M246.4,881.4h0M301.3,879.0h0M300.2,874.5h0M254.4,878.0h0M247.2,878.4h0M253.4,878.9h0M197.8,880.4h0M259.4,874.5h0M228.6,871.2h0M208.5,878.1h0M308.4,877.4h0M274.0,875.5h0M244.9,876.5h0M202.8,869.6h0M223.2,881.8h0M248.4,879.0h0M291.4,877.4h0M232.0,879.4h0M246.6,874.5h0M247.3,879.6h0M250.6,868.8h0M225.8,887.1h0M259.6,881.2h0M221.1,877.3h0M226.6,875.7h0M214.7,880.0h0M271.7,877.6h0M250.8,874.5h0M221.7,875.1h0M244.1,879.0h0M246.7,883.8h0M269.9,875.6h0M237.3,881.9h0M217.4,872.0h0M226.3,878.2h0M256.2,878.8h0M238.8,878.4h0M281.2,879.5h0M281.3,878.8h0M296.7,882.1h0M267.5,878.5h0M282.6,879.0h0M243.4,881.1h0M245.7,876.5h0M208.6,878.6h0M257.5,884.8h0M271.6,871.0h0M267.1,875.6h0M301.3,878.1h0M263.9,883.8h0M293.6,878.4h0M247.9,876.5h0M294.9,876.7h0M259.4,876.8h0M296.3,877.8h0M240.7,876.4h0M241.6,874.9h0M242.8,887.2h0M198.9,875.3h0M222.7,878.3h0M250.1,877.0h0M269.0,873.7h0M266.3,874.7h0M244.1,881.3h0M274.1,872.1h0M202.1,881.0h0M246.0,879.7h0M234.8,878.5h0M212.6,876.9h0M200.2,875.9h0M215.4,881.3h0M221.1,882.7h0M246.9,872.5h0M225.3,875.1h0M208.6,882.6h0M230.6,881.1h0M247.7,880.3h0M249.5,877.9h0M245.7,872.7h0M281.3,878.6h0M254.9,882.5h0M219.2,878.0h0M218.7,876.3h0M269.6,875.7h0M225.9,877.9h0M295.9,877.3h0M237.1,877.5h0M196.8,879.2h0M208.5,881.1h0M260.2,876.7h0M307.8,878.0h0M239.2,881.2h0M237.5,879.9h0M206.1,882.0h0M225.5,885.7h0M243.4,870.4h0M289.0,877.1h0M240.6,882.0h0M272.6,874.1h0M244.1,878.2h0M222.4,875.1h0M265.6,877.0h0M230.0,877.6h0M221.0,881.3h0M226.0,882.8h0M272.1,874.9h0M296.2,879.0h0M225.7,877.2h0M215.5,880.7h0M257.5,875.2h0M216.3,886.8h0M252.9,879.9h0M293.5,875.8h0M215.3,883.6h0M210.8,877.7h0M254.8,871.2h0M331.6,877.5h0M244.6,877.4h0M268.2,884.6h0M228.8,885.9h0M231.6,878.6h0M262.4,871.5h0M277.7,877.9h0M275.7,881.0h0M292.0,873.8h0M194.7,880.4h0M262.3,871.0h0M263.8,871.3h0M249.1,872.6h0M275.0,878.2h0M262.2,888.1h0M245.4,878.3h0M250.9,879.1h0M291.3,877.9h0M258.8,876.6h0M227.6,878.8h0M250.2,879.1h0M272.4,880.2h0M242.6,876.8h0M229.4,884.5h0M242.4,877.3h0M255.4,880.0h0M258.5,872.3h0M237.6,878.2h0M291.8,876.1h0M209.0,881.7h0M267.5,877.7h0M238.2,878.2h0M271.3,875.3h0M272.2,877.7h0M232.8,882.1h0M234.3,872.6h0M212.1,876.7h0M256.0,877.0h0M215.1,884.4h0M228.1,873.7h0M264.3,878.4h0M236.3,875.2h0M250.6,876.7h0M238.4,879.1h0M296.2,881.1h0M204.6,880.7h0M224.9,880.4h0M271.9,874.9h0M292.1,878.2h0M205.5,878.4h0M233.0,878.6h0M217.2,877.4h0M271.9,888.4h0M246.6,873.1h0M238.9,877.2h0M278.8,873.6h0M233.2,874.7h0M266.5,880.7h0M269.3,886.6h0M213.5,879.2h0M228.1,879.3h0M244.0,870.7h0M237.5,877.5h0M278.6,877.8h0M257.8,878.0h0M223.5,879.4h0M204.1,878.0h0M230.2,877.3h0M305.6,877.4h0M294.1,876.3h0M285.4,876.2h0M269.4,877.7h0M243.2,882.4h0M258.0,881.6h0M272.1,878.0h0M270.0,873.8h0M292.1,877.1h0M273.8,880.1h0M260.8,878.6h0M224.4,877.8h0M288.8,877.9h0M245.5,877.7h0M238.9,881.6h0M277.5,875.1h0M193.6,873.2h0M302.2,877.7h0M283.2,876.9h0M324.4,877.0h0M195.4,881.9h0M265.2,875.4h0M229.1,877.5h0M249.1,882.6h0M217.0,878.6h0M243.3,880.3h0M205.5,879.2h0M224.1,872.6h0M240.0,877.5h0M268.6,875.6h0M244.2,877.6h0M256.2,873.1h0M237.8,881.1h0M266.7,873.1h0M245.3,874.6h0M283.3,877.6h0M200.9,888.7h0M227.5,875.6h0M255.6,881.2h0M288.6,876.9h0M300.0,877.1h0M266.0,877.7h0M238.7,877.0h0M271.3,880.4h0M283.6,885.3h0M270.9,876.3h0M266.5,881.3h0M280.0,872.9h0M249.7,883.3h0M233.4,876.3h0M256.7,877.2h0M271.2,878.6h0M209.9,884.7h0M260.7,877.2h0M264.6,874.8h0M233.8,875.8h0M256.2,882.6h0M231.4,881.5h0M217.1,877.6h0M213.8,870.3h0M258.8,877.3h0M221.6,876.7h0M262.6,876.6h0M248.0,878.0h0M231.0,874.1h0M265.7,880.6h0M255.9,879.0h0M218.0,876.7h0M256.6,878.4h0M298.0,876.7h0M244.3,876.1h0M305.4,877.9h0M237.9,881.9h0M264.1,875.0h0M240.9,883.7h0M256.1,873.6h0M267.5,878.7h0M198.7,867.7h0M241.0,876.2h0M209.4,883.7h0M199.9,874.1h0M257.3,881.0h0M289.0,877.9h0M269.9,883.2h0M242.4,872.8h0M259.1,881.4h0M266.0,880.0h0M213.5,876.9h0M231.6,885.1h0M244.9,872.1h0M278.3,880.8h0M279.9,875.4h0M264.2,878.9h0M274.5,877.3h0M295.1,876.4h0M265.4,877.1h0M196.9,882.9h0M244.6,879.5h0M244.6,877.0h0M273.5,877.7h0M246.5,880.7h0M258.6,878.8h0M230.9,874.4h0M208.6,873.7h0M280.9,878.7h0M193.0,882.5h0M226.5,887.0h0M231.9,872.0h0M254.3,879.3h0M244.5,879.3h0M229.7,885.9h0M228.6,878.2h0M238.4,881.9h0M237.5,878.8h0M274.6,877.8h0M203.0,879.2h0M270.9,881.2h0M224.5,874.2h0M239.3,879.3h0M241.8,875.2h0M267.4,881.0h0M212.3,877.8h0M259.3,876.3h0M284.8,874.4h0M233.4,878.1h0M231.5,877.4h0M260.0,878.5h0M262.4,879.1h0M280.0,877.1h0M234.0,878.8h0M231.4,881.7h0M224.8,877.7h0M236.6,878.1h0M291.0,879.0h0M243.5,875.8h0M298.1,876.3h0M189.1,881.3h0M269.3,879.5h0M238.1,875.4h0M236.1,879.9h0M288.6,872.7h0M268.4,880.1h0M215.0,879.9h0M297.0,878.8h0M240.0,880.8h0M243.7,876.6h0M271.8,877.5h0M235.7,888.5h0M243.3,876.5h0M254.8,878.5h0M244.1,878.0h0M248.7,877.3h0M232.2,876.2h0M236.2,871.0h0M283.0,877.5h0M252.8,878.3h0M215.3,880.1h0M272.4,879.3h0M232.8,886.7h0M222.6,879.2h0M248.0,876.4h0M220.7,875.2h0M267.5,881.3h0M282.9,878.5h0M269.0,873.1h0M258.4,871.3h0M276.8,880.2h0M258.5,878.4h0M220.5,880.3h0M255.1,874.9h0M237.1,879.3h0M270.2,888.3h0M262.6,871.7h0M271.3,880.9h0M222.6,871.3h0M278.2,876.2h0M240.3,876.2h0M310.1,877.2h0M237.5,882.1h0M296.9,874.1h0M211.6,888.4h0M216.3,872.5h0M194.1,881.8h0M242.3,877.2h0M224.5,884.2h0M252.2,877.6h0M255.9,872.2h0M278.6,876.0h0M222.6,873.7h0M224.5,879.0h0M255.7,875.5h0M258.0,874.3h0M246.5,872.6h0M235.4,876.4h0M245.0,881.7h0M262.4,885.5h0M309.4,880.1h0M229.6,874.9h0M278.6,877.4h0M209.7,880.8h0M285.8,879.4h0M255.0,887.0h0M260.6,873.9h0M224.9,872.9h0M283.0,879.0h0M223.8,873.6h0M283.7,879.5h0M269.2,881.8h0M204.7,872.4h0M229.4,876.9h0M246.5,878.6h0M212.0,875.3h0M217.4,881.2h0M238.0,888.0h0M260.8,869.2h0M252.5,884.0h0M275.6,877.2h0M277.0,879.2h0M242.0,873.1h0M286.0,883.4h0M261.6,876.2h0M231.7,880.0h0M246.2,879.8h0M248.4,869.4h0M228.9,877.8h0M251.5,878.8h0M273.8,877.7h0M244.3,871.5h0M233.3,877.9h0M294.4,876.1h0M284.8,877.1h0M195.1,881.7h0M246.6,883.9h0M293.4,881.7h0M234.5,877.2h0M243.1,878.2h0M261.9,878.2h0M240.6,878.0h0M259.8,880.2h0M250.9,876.7h0M235.8,879.5h0M251.1,874.8h0M308.9,879.7h0M238.6,880.3h0M286.1,879.2h0M261.1,877.4h0M250.2,874.9h0M239.0,876.8h0M261.6,874.6h0M268.8,882.6h0M278.0,869.8h0M214.2,877.6h0M293.4,880.9h0M191.9,889.0h0M286.3,874.5h0M240.4,879.3h0M306.2,875.9h0M294.2,878.1h0M258.8,879.6h0M252.3,872.8h0M235.0,877.0h0M283.4,877.8h0M274.1,877.3h0M236.3,872.1h0M246.3,879.5h0M254.1,884.0h0M309.0,878.3h0M254.7,869.7h0M223.5,880.9h0M228.5,872.9h0M245.6,882.9h0M272.4,876.7h0M212.3,878.3h0M197.1,880.2h0M257.0,877.8h0M220.3,878.6h0M239.0,878.3h0M316.2,876.7h0M227.3,886.3h0M251.2,879.6h0M221.4,875.8h0M234.1,875.9h0M258.1,877.5h0M240.9,880.6h0M280.8,875.6h0M288.6,881.8h0M214.6,879.6h0M246.6,887.9h0M232.7,877.2h0M262.4,884.1h0M304.5,878.4h0M268.0,879.0h0M219.0,874.4h0M226.8,876.3h0M258.8,880.6h0M197.6,880.2h0M215.0,874.8h0M214.2,877.7h0M203.2,872.1h0M277.2,874.3h0M246.7,869.4h0M247.1,880.4h0M218.4,884.3h0M217.8,869.4h0M241.5,881.5h0M247.2,873.6h0M205.4,886.9h0M224.2,873.2h0M280.4,877.8h0M287.4,878.4h0M261.8,876.8h0M287.0,876.9h0M270.2,878.3h0M232.1,883.7h0M290.4,876.9h0M254.8,879.9h0M286.5,879.4h0M266.9,878.2h0M277.8,873.5h0M209.6,884.5h0M217.0,881.5h0M231.2,877.9h0M293.1,877.3h0M232.2,879.1h0M246.8,882.9h0M258.7,875.0h0M273.7,870.4h0M202.8,879.5h0M257.0,877.5h0M294.8,874.2h0M278.1,871.6h0M253.6,878.0h0M245.7,881.1h0M275.6,877.1h0M276.6,879.1h0M248.7,888.3h0M217.9,873.7h0M271.6,878.8h0M257.2,877.6h0M264.8,878.4h0M295.3,875.8h0M233.3,879.5h0M264.2,874.8h0M227.4,883.2h0M236.4,870.1h0M224.4,882.5h0M233.9,879.1h0M294.2,879.8h0M262.0,879.9h0M261.0,876.4h0M240.7,877.3h0M242.0,878.4h0M285.0,878.9h0M264.6,881.8h0M228.6,878.6h0M253.4,878.3h0M216.8,874.9h0M229.3,879.3h0M293.8,877.9h0M271.8,878.8h0M210.5,875.5h0M247.5,877.5h0M256.2,876.0h0M279.1,879.8h0M211.5,875.7h0M207.0,879.7h0M271.4,876.0h0M217.5,875.4h0M262.5,870.1h0M288.0,878.4h0M199.7,888.5h0M255.6,870.6h0M190.1,870.7h0M230.9,879.1h0M264.9,868.8h0M246.5,883.4h0M216.0,879.9h0M273.4,876.3h0M226.9,875.0h0M217.1,879.2h0M226.0,877.6h0M302.0,875.9h0M211.3,876.2h0M266.0,874.0h0M280.6,879.2h0M263.8,877.0h0M294.6,878.7h0M234.5,877.1h0M233.4,875.5h0M238.9,869.0h0M242.7,874.6h0M271.3,881.5h0M268.3,874.4h0M222.9,871.6h0M216.6,878.7h0M279.8,877.0h0M217.6,877.4h0M312.6,878.0h0M267.3,870.5h0M283.6,879.2h0M216.6,875.1h0M271.3,878.3h0M207.2,880.9h0M273.9,887.6h0M260.2,874.3h0M208.2,877.8h0M258.0,881.2h0M213.6,873.3h0M257.8,879.5h0M290.8,879.3h0M233.5,877.3h0M275.6,875.2h0M297.8,880.4h0M214.5,871.2h0M255.0,879.9h0M308.3,876.4h0M283.6,879.0h0M257.7,871.9h0M244.2,875.9h0M237.5,879.5h0M210.9,869.8h0M280.5,875.4h0M269.3,875.4h0M272.0,873.3h0M253.0,876.6h0M249.2,877.8h0M257.2,870.9h0M308.1,878.4h0M225.9,876.1h0M265.3,884.7h0M239.0,876.4h0M204.2,878.5h0M224.1,878.3h0M225.1,882.2h0M270.7,875.9h0M257.5,877.7h0M198.5,880.0h0M297.0,879.1h0M240.4,874.0h0M267.4,879.0h0M284.7,885.0h0M257.2,877.0h0M244.1,870.9h0M244.3,877.3h0M253.2,878.9h0M268.0,875.4h0M252.2,880.6h0M242.9,878.2h0M217.1,877.5h0M239.1,878.4h0M254.4,880.4h0M258.6,875.6h0M234.0,872.4h0M257.8,883.9h0M229.5,877.7h0M245.3,888.2h0M241.8,876.6h0M297.3,877.4h0M233.4,887.7h0M243.5,883.4h0M272.5,873.0h0M209.8,883.0h0M223.0,877.7h0M272.4,886.4h0M290.3,875.5h0M208.1,884.9h0M246.1,879.6h0M232.4,879.3h0M263.6,874.7h0M262.7,879.0h0M228.5,873.6h0M255.7,876.0h0M266.8,878.3h0M293.0,877.1h0M218.9,879.5h0M230.7,879.2h0M258.5,878.6h0M254.2,871.8h0M261.0,878.5h0M291.1,872.9h0M266.0,877.3h0M191.2,880.7h0M193.0,883.1h0M195.9,880.0h0M223.2,874.2h0M223.7,876.7h0M241.6,868.8h0M202.9,879.2h0M229.8,878.2h0M266.8,874.1h0M206.0,876.8h0M253.8,875.8h0M252.1,877.2h0M275.5,881.1h0M269.3,876.4h0M290.4,878.3h0M271.7,885.8h0M202.0,878.4h0M260.5,876.8h0M238.0,877.4h0M200.9,879.9h0M243.7,879.8h0M250.5,884.3h0M272.4,882.0h0M263.7,882.6h0M284.7,877.8h0M242.8,882.7h0M238.9,874.5h0M230.5,876.1h0M261.8,874.8h0M235.8,876.5h0M303.1,876.6h0M233.3,888.0h0M263.7,878.0h0M254.4,874.4h0M190.7,881.6h0M280.8,876.3h0M291.0,878.0h0M239.7,876.6h0M222.4,878.9h0M264.0,878.7h0M262.7,876.8h0M222.3,874.0h0M273.1,879.0h0M260.9,878.3h0M286.6,878.4h0M262.4,879.5h0M211.1,878.2h0M231.7,887.7h0M257.9,877.7h0M288.4,875.3h0M249.9,876.5h0M280.0,872.4h0M256.6,874.4h0M256.6,875.5h0M213.7,875.0h0M217.5,869.5h0M199.2,872.0h0M261.8,879.5h0M261.0,873.4h0M270.2,872.7h0M254.4,877.9h0M253.1,875.3h0M212.2,876.8h0M246.6,886.1h0M223.8,875.2h0M278.9,881.0h0M288.3,876.0h0M281.1,874.8h0M214.0,876.1h0M230.6,869.1h0M215.8,871.6h0M240.1,878.3h0M284.0,877.0h0M215.8,881.1h0M276.6,882.7h0M253.1,869.1h0M262.0,875.5h0M290.9,883.6h0M258.4,886.5h0M283.4,878.7h0M211.1,880.8h0M234.8,876.7h0M257.3,876.1h0M274.9,879.0h0M212.5,881.8h0M246.1,883.3h0M190.2,882.4h0M255.1,880.8h0M269.6,877.2h0M220.2,877.6h0M241.2,875.5h0M274.5,875.2h0M212.2,884.9h0M255.1,879.2h0M287.2,877.0h0M273.9,869.0h0M221.2,874.8h0M251.2,881.0h0M281.7,879.2h0M209.9,882.1h0M267.0,876.6h0M248.6,878.2h0M208.3,877.7h0M252.9,878.7h0M229.4,888.2h0M218.8,872.6h0M292.8,877.5h0M223.9,877.9h0M250.8,877.1h0M219.3,879.3h0M238.4,878.8h0M263.1,874.6h0M280.2,878.6h0M244.0,879.8h0M222.0,879.6h0M233.8,874.3h0M220.4,887.0h0M253.6,879.1h0M226.1,888.5h0M211.3,878.4h0M224.2,886.2h0M258.9,881.5h0M227.1,888.0h0M286.6,879.3h0M274.7,888.4h0M212.3,873.6h0M238.8,884.5h0M222.1,880.3h0M207.2,880.0h0M261.9,874.6h0M289.3,875.4h0M227.7,874.5h0M261.8,877.3h0M249.0,872.3h0M209.1,875.6h0M228.0,880.6h0M280.3,878.4h0M231.6,880.7h0M302.1,880.1h0M198.9,879.2h0M266.2,878.2h0M273.7,877.9h0M247.6,877.1h0M202.9,875.7h0M283.8,876.7h0M210.7,871.6h0M250.9,877.3h0M287.2,877.5h0M221.4,876.6h0M301.4,877.3h0M252.3,880.2h0M256.7,876.5h0M201.3,876.0h0M190.0,873.9h0M205.4,888.4h0M192.6,885.0h0M223.5,873.7h0M203.2,878.7h0M205.8,880.2h0M255.6,885.8h0M308.9,877.7h0M253.6,882.2h0M302.5,876.8h0M275.4,876.0h0M226.1,876.1h0M205.7,879.6h0M236.3,881.9h0M268.2,880.2h0M255.6,878.3h0M270.0,877.1h0M244.1,871.3h0M262.9,873.9h0M235.7,876.2h0M256.0,878.2h0M238.0,881.0h0M258.9,879.3h0M198.8,882.5h0M319.5,877.2h0M279.4,873.3h0M206.6,876.7h0M252.1,876.2h0M261.0,878.2h0M236.5,880.2h0M225.6,879.9h0M207.8,876.1h0M245.2,877.9h0M275.4,874.2h0M240.7,888.4h0M260.1,877.9h0M212.1,878.4h0M288.3,883.6h0M252.2,873.6h0M278.6,886.1h0M271.1,886.7h0M252.5,875.9h0M257.6,881.1h0M215.1,880.7h0M298.8,876.8h0M303.8,878.3h0M199.1,874.7h0M207.9,877.5h0M239.4,870.7h0M250.9,873.3h0M269.6,876.8h0M252.2,878.2h0M201.4,887.2h0M284.7,879.2h0M210.5,876.5h0M291.3,877.5h0M273.0,882.4h0M263.6,879.1h0M231.8,876.0h0M203.2,883.1h0M252.1,879.2h0M213.1,878.5h0M210.4,875.9h0M237.3,878.1h0M266.4,876.1h0M210.0,879.4h0M252.2,879.9h0M276.9,878.0h0M268.3,875.0h0M267.3,878.7h0M213.7,874.0h0M264.0,877.6h0M242.7,873.9h0M243.9,876.6h0M228.3,874.2h0M306.3,877.0h0M290.1,876.2h0M202.7,878.1h0M262.1,885.3h0M245.3,882.5h0M272.1,876.6h0M237.6,876.2h0M221.0,876.7h0M210.4,881.1h0M265.0,876.5h0M219.4,875.8h0M230.0,881.4h0M277.4,872.3h0M179.7,883.9h0M176.9,868.9h0M185.9,883.2h0M182.6,887.2h0M186.2,880.9h0M188.5,883.7h0M187.2,887.8h0M187.5,872.6h0M200.0,885.4h0M187.2,891.7h0M186.8,872.5h0M196.1,886.8h0M181.2,887.1h0M178.6,873.5h0M190.2,884.9h0M188.8,885.0h0M196.0,892.6h0M180.1,888.0h0M191.0,890.3h0M183.9,880.5h0M191.8,873.0h0M179.4,882.7h0M181.6,881.4h0M199.1,884.6h0M185.3,872.3h0M179.9,882.9h0M178.8,887.4h0M187.1,873.2h0M176.1,885.5h0M182.3,873.0h0M187.9,872.6h0M196.6,873.4h0M184.3,872.9h0M179.4,885.9h0M185.6,882.9h0M194.8,883.6h0M183.6,883.5h0M198.0,869.9h0M184.4,887.7h0M178.4,871.8h0M190.6,880.7h0M195.1,868.2h0M190.8,888.6h0M192.5,884.5h0M182.1,869.6h0M321.2,878.3h0M325.2,875.6h0M330.4,877.5h0M357.9,879.3h0M360.6,878.4h0M352.7,877.7h0M333.5,877.7h0M345.3,878.3h0M332.3,877.0h0M342.5,877.7h0M321.4,874.8h0M325.7,878.1h0M321.7,875.2h0M326.6,877.1h0" stroke="#9a9a9a" stroke-width="2.1" stroke-linecap="round" fill="none"/>
<path d="M120.7,841.8h0M131.0,846.0h0M137.1,847.5h0M147.8,858.5h0M151.3,857.8h0M157.7,862.6h0M157.7,864.0h0M163.1,863.5h0M167.4,863.1h0M164.3,867.4h0M179.5,868.0h0M179.5,870.3h0M182.1,868.0h0M184.8,868.5h0M187.5,870.3h0M132.8,907.7h0M142.4,905.4h0M145.6,897.7h0M147.8,891.1h0M149.2,892.0h0M148.8,895.2h0M158.1,900.6h0M162.0,897.0h0M159.9,891.6h0M164.9,891.6h0M98.8,974.1h0M133.0,907.5h0M255.3,862.2h0M271.8,867.9h0M248.3,890.2h0M258.4,888.9h0M282.0,886.3h0M287.1,887.6h0M324.0,879.3h0M174.0,888.0h0M176.0,884.0h0M178.0,891.0h0M180.0,886.0h0M183.0,889.0h0M185.0,882.0h0M187.0,886.0h0M170.0,884.0h0M172.0,882.0h0" stroke="#8e8e8e" stroke-width="2.1" stroke-linecap="round" fill="none"/>
<path d="M139.2,808.5h0M118.4,819.4h0M155.0,822.7h0M147.5,913.0h0M159.2,931.7h0M146.3,937.9h0M145.9,952.9h0M138.8,960.8h0M130.5,972.9h0M151.7,977.0h0M229.9,986.2h0M159.5,898.2h0M167.0,899.7h0M173.8,906.8h0M180.9,903.6h0M180.0,898.8h0M182.1,896.5h0M183.9,892.0h0M185.7,897.9h0M191.9,897.3h0M190.5,913.4h0M200.0,895.6h0M201.7,891.6h0M204.0,888.1h0M207.1,893.8h0M210.1,893.8h0M215.1,892.4h0M216.9,888.4h0M221.9,888.1h0M224.0,896.1h0M226.7,886.7h0M229.0,890.6h0M231.1,894.7h0M232.9,886.7h0M234.7,888.4h0M237.9,887.5h0M239.1,889.3h0M245.0,897.0h0M250.7,893.8h0M205.3,865.6h0M206.2,868.0h0M210.3,869.2h0M213.7,867.1h0M221.9,868.0h0M233.8,863.9h0M233.8,867.1h0M238.3,868.5h0M243.2,868.0h0M248.0,868.5h0M243.6,867.6h0M247.9,868.5h0M254.6,867.3h0M257.6,864.7h0M253.4,871.1h0M262.9,872.4h0M265.4,871.1h0M269.9,871.1h0M243.8,886.3h0M245.1,896.9h0M249.9,894.0h0M251.2,900.0h0M257.2,884.2h0M263.9,895.6h0M265.4,887.6h0M266.1,890.8h0M267.0,893.1h0M272.8,894.9h0M274.4,881.9h0M274.6,888.0h0M276.9,891.1h0" stroke="#fa2a22" stroke-width="2.35" stroke-linecap="round" fill="none"/>
<polygon points="186.3,749.2 189.5,749.2 187.9,746.5" fill="none" stroke="#fa2a22" stroke-width="0.9"/>
<line x1="56.6" y1="877.2" x2="382.5" y2="877.2" stroke="#707070" stroke-width="2.4"/>
</g>
<rect x="56.6" y="737.6" width="325.9" height="278.9" fill="none" stroke="#646464" stroke-width="1.3"/>
<text x="50.90" y="985.40" font-size="16.2" text-anchor="end" font-weight="normal" font-style="normal" fill="#000" transform="translate(2.04,0) scale(0.96,1)">-4</text>
<text x="50.90" y="933.80" font-size="16.2" text-anchor="end" font-weight="normal" font-style="normal" fill="#000" transform="translate(2.04,0) scale(0.96,1)">-2</text>
<text x="50.90" y="882.20" font-size="16.2" text-anchor="end" font-weight="normal" font-style="normal" fill="#000" transform="translate(2.04,0) scale(0.96,1)">0</text>
<text x="50.90" y="830.60" font-size="16.2" text-anchor="end" font-weight="normal" font-style="normal" fill="#000" transform="translate(2.04,0) scale(0.96,1)">2</text>
<text x="50.90" y="779.00" font-size="16.2" text-anchor="end" font-weight="normal" font-style="normal" fill="#000" transform="translate(2.04,0) scale(0.96,1)">4</text>
<text x="65.83" y="1037.30" font-size="16.2" text-anchor="start" font-weight="normal" font-style="normal" fill="#000" transform="scale(0.96,1)">1</text>
<text x="119.27" y="1037.30" font-size="16.2" text-anchor="start" font-weight="normal" font-style="normal" fill="#000" transform="scale(0.96,1)">10</text>
<text x="171.46" y="1037.30" font-size="16.2" text-anchor="start" font-weight="normal" font-style="normal" fill="#000" transform="scale(0.96,1)">100</text>
<text x="226.46" y="1037.30" font-size="16.2" text-anchor="start" font-weight="normal" font-style="normal" fill="#000" transform="scale(0.96,1)">1,000</text>
<text x="275.83" y="1037.30" font-size="16.2" text-anchor="start" font-weight="normal" font-style="normal" fill="#000" transform="scale(0.96,1)">10,000</text>
<text x="332.60" y="1037.30" font-size="16.2" text-anchor="start" font-weight="normal" font-style="normal" fill="#000" transform="scale(0.96,1)">100,000</text>
<path d="M52.8,980.4H56.6M52.8,928.8H56.6M52.8,877.2H56.6M52.8,825.6H56.6M52.8,774.0H56.6M65.3,1016.5V1021.2M120.3,1016.5V1021.2M175.3,1016.5V1021.2M230.3,1016.5V1021.2M285.3,1016.5V1021.2M340.3,1016.5V1021.2" stroke="#646464" stroke-width="1.1" fill="none"/>
<text x="122.70" y="1056.00" font-size="15.0" text-anchor="start" font-weight="normal" font-style="normal" fill="#000" textLength="190.2" lengthAdjust="spacing">Mean of normalized counts</text>
<text transform="translate(31.4,865.1) rotate(-90)" x="0" y="0" font-size="16" text-anchor="middle">Log<tspan font-size="10" dy="4">2</tspan><tspan dy="-4"> Fold Change</tspan></text>
<text x="369.00" y="773.20" font-size="22.4" text-anchor="end" font-weight="normal" font-style="normal" fill="#000" >DEG: 101</text>
<text x="369.00" y="799.60" font-size="22.4" text-anchor="end" font-weight="normal" font-style="normal" fill="#000" >FDR &lt; 0.05</text>
<text x="399.0" y="706.0" font-size="39.5" font-weight="bold">e</text>
<text x="532.00" y="726.50" font-size="25.5" text-anchor="start" font-weight="normal" font-style="normal" fill="#000" >Male</text>
<text x="621.00" y="726.50" font-size="25.5" text-anchor="start" font-weight="normal" font-style="normal" fill="#000" >8 Months</text>
<clipPath id="clipe"><rect x="458.6" y="737.5" width="326.4" height="279.79999999999995"/></clipPath>
<g clip-path="url(#clipe)">
<path d="M627.7,879.1h0M605.8,877.6h0M686.3,878.1h0M540.7,880.6h0M625.3,882.9h0M622.3,877.3h0M666.5,879.4h0M666.2,879.3h0M642.9,881.7h0M632.1,872.9h0M637.1,873.5h0M676.1,875.2h0M659.9,877.8h0M639.8,878.7h0M589.5,879.6h0M625.9,884.9h0M618.6,880.0h0M638.5,879.2h0M599.3,882.2h0M626.4,875.7h0M664.6,877.5h0M650.7,877.4h0M659.0,876.7h0M562.9,876.8h0M645.9,872.1h0M636.6,879.2h0M630.6,882.7h0M688.5,875.5h0M568.6,881.2h0M617.3,877.0h0M633.1,878.8h0M617.0,877.0h0M713.4,876.7h0M601.4,872.5h0M641.1,879.9h0M664.3,874.3h0M662.0,881.9h0M632.4,880.7h0M543.9,883.1h0M581.4,884.3h0M753.7,877.1h0M673.5,879.2h0M656.8,878.0h0M638.6,878.6h0M616.8,878.2h0M694.0,879.9h0M642.4,878.5h0M663.7,878.8h0M655.7,876.6h0M631.2,881.2h0M707.6,877.2h0M709.2,877.8h0M589.1,876.4h0M636.4,879.6h0M603.7,882.2h0M599.2,875.9h0M623.1,874.1h0M667.8,878.0h0M653.5,871.4h0M587.0,878.7h0M636.9,874.2h0M721.8,876.9h0M736.0,877.5h0M697.7,879.1h0M579.7,879.4h0M617.9,878.3h0M581.7,878.5h0M609.2,873.3h0M552.4,878.5h0M654.0,881.6h0M602.3,876.0h0M658.9,874.4h0M605.1,875.4h0M672.4,877.3h0M601.2,876.7h0M636.2,873.2h0M644.2,877.9h0M637.4,871.1h0M645.2,875.6h0M638.4,874.3h0M637.5,882.7h0M640.4,872.9h0M608.2,880.3h0M591.4,877.8h0M609.6,876.1h0M631.0,877.3h0M608.6,875.9h0M633.7,878.2h0M663.6,877.1h0M589.3,878.7h0M616.5,879.1h0M642.8,879.3h0M674.7,879.1h0M616.5,877.3h0M588.7,876.0h0M582.9,874.2h0M691.2,874.0h0M731.6,876.9h0M609.0,873.9h0M587.3,878.7h0M602.4,884.7h0M726.7,878.5h0M603.3,877.0h0M542.7,880.0h0M720.6,876.4h0M702.2,878.3h0M649.1,876.7h0M629.3,873.8h0M669.3,874.5h0M650.1,878.5h0M610.5,875.3h0M627.6,872.2h0M609.7,876.7h0M617.5,878.3h0M622.8,874.3h0M659.5,881.6h0M633.5,874.3h0M678.2,878.4h0M654.3,880.4h0M606.6,876.2h0M628.2,876.1h0M625.0,878.5h0M642.9,876.9h0M592.4,876.3h0M652.6,878.8h0M567.4,880.3h0M622.5,879.8h0M677.0,880.9h0M625.6,882.2h0M579.3,880.8h0M725.8,877.9h0M653.9,877.8h0M618.7,877.8h0M620.3,875.4h0M645.3,875.3h0M612.6,875.8h0M590.0,881.7h0M726.8,877.2h0M663.0,878.6h0M624.4,884.4h0M608.4,883.4h0M677.5,883.1h0M657.0,876.2h0M691.2,878.4h0M629.4,876.3h0M674.2,874.4h0M656.6,878.6h0M650.6,878.1h0M629.8,875.4h0M664.5,878.8h0M618.5,876.6h0M654.3,874.1h0M572.9,882.2h0M600.7,881.7h0M623.7,874.3h0M701.9,875.6h0M632.5,876.1h0M706.9,876.5h0M664.6,877.1h0M656.5,876.9h0M735.0,876.4h0M683.8,873.2h0M593.6,879.0h0M644.2,878.7h0M703.0,878.4h0M592.1,877.8h0M757.9,877.3h0M597.3,876.4h0M591.2,878.1h0M638.9,876.0h0M741.7,878.3h0M621.4,877.7h0M624.2,875.8h0M628.0,879.8h0M638.0,877.4h0M602.3,880.9h0M566.8,874.5h0M629.7,879.1h0M629.1,875.1h0M627.5,879.0h0M697.2,879.2h0M706.8,877.3h0M588.9,880.8h0M622.6,876.0h0M590.3,877.9h0M660.8,881.8h0M678.7,877.2h0M619.5,870.8h0M635.9,880.7h0M599.8,878.7h0M566.3,878.1h0M595.5,871.7h0M683.0,877.1h0M582.3,878.1h0M735.0,876.1h0M624.6,875.8h0M626.7,877.5h0M597.8,874.5h0M685.1,877.2h0M635.1,880.2h0M684.0,873.0h0M681.1,879.2h0M659.4,877.5h0M627.0,883.6h0M669.5,881.6h0M701.0,880.3h0M607.8,879.4h0M649.1,882.5h0M671.5,874.1h0M588.6,883.7h0M671.6,876.5h0M639.8,882.8h0M730.2,878.5h0M724.1,877.5h0M625.0,876.2h0M633.0,883.8h0M608.3,871.5h0M694.0,876.2h0M668.4,882.9h0M658.6,876.5h0M615.4,876.5h0M711.9,878.0h0M597.5,881.8h0M700.9,878.6h0M676.4,879.6h0M631.0,879.0h0M612.9,876.2h0M653.0,877.9h0M638.9,878.5h0M678.6,884.1h0M608.0,875.9h0M640.4,882.5h0M600.8,882.8h0M595.3,884.7h0M655.7,876.7h0M691.2,878.2h0M670.5,878.4h0M621.3,880.2h0M624.1,881.9h0M646.8,876.9h0M617.6,883.5h0M542.8,881.2h0M612.9,881.1h0M644.1,880.8h0M638.5,880.1h0M632.1,873.9h0M637.7,877.1h0M602.0,880.6h0M636.3,882.1h0M634.1,880.0h0M629.3,873.7h0M673.2,878.4h0M608.1,877.4h0M662.2,878.3h0M643.9,878.7h0M741.6,877.2h0M625.4,878.7h0M599.1,878.7h0M672.5,880.3h0M637.3,879.8h0M635.2,877.9h0M633.0,879.6h0M693.1,880.3h0M738.0,877.5h0M699.4,877.1h0M674.0,877.8h0M615.7,874.9h0M599.4,874.3h0M593.3,878.3h0M596.8,880.6h0M608.6,873.0h0M606.4,883.5h0M596.6,881.3h0M668.8,876.5h0M611.1,882.9h0M731.2,878.2h0M620.5,877.2h0M608.5,879.1h0M625.1,877.5h0M554.1,878.6h0M635.6,876.6h0M602.8,875.5h0M571.3,878.3h0M622.6,873.6h0M589.2,877.6h0M650.3,883.5h0M633.2,877.9h0M592.4,877.1h0M623.3,878.9h0M633.0,881.9h0M690.1,877.9h0M626.9,883.8h0M591.7,875.6h0M718.2,876.9h0M596.2,879.3h0M617.7,878.8h0M677.7,872.3h0M670.0,876.2h0M602.9,879.3h0M641.6,884.8h0M606.7,880.5h0M625.8,881.2h0M662.8,883.1h0M690.1,879.7h0M575.3,879.4h0M703.9,876.9h0M604.2,874.0h0M610.1,874.9h0M667.9,875.8h0M618.8,882.4h0M704.4,876.6h0M628.0,878.1h0M631.6,875.5h0M554.0,883.9h0M649.8,882.3h0M683.3,878.0h0M621.3,878.7h0M618.2,879.7h0M620.9,876.2h0M602.3,878.5h0M661.8,878.2h0M628.1,880.8h0M693.1,879.2h0M626.5,877.2h0M655.2,873.7h0M577.3,881.0h0M637.4,879.7h0M643.6,876.6h0M698.3,877.5h0M604.2,877.9h0M641.9,872.4h0M568.5,876.6h0M594.8,880.3h0M711.2,877.9h0M653.7,880.4h0M620.9,876.3h0M655.3,874.8h0M679.1,883.1h0M637.5,874.8h0M643.6,880.0h0M678.7,878.6h0M662.0,875.4h0M615.6,878.4h0M628.8,878.2h0M700.5,878.4h0M619.5,876.8h0M707.6,878.1h0M681.1,873.1h0M637.0,876.8h0M597.9,879.3h0M639.6,879.7h0M680.9,876.2h0M666.8,871.7h0M627.2,871.4h0M651.1,877.9h0M721.0,876.2h0M609.1,871.5h0M642.3,878.9h0M681.9,878.7h0M620.0,883.8h0M689.1,876.1h0M719.8,877.5h0M702.1,875.0h0M716.3,878.1h0M583.5,875.2h0M712.9,876.6h0M647.3,879.3h0M558.7,881.4h0M649.2,883.0h0M644.4,875.9h0M676.3,878.9h0M630.0,877.9h0M629.5,874.1h0M559.1,879.4h0M566.3,883.4h0M680.9,878.1h0M675.7,877.2h0M646.9,876.4h0M621.9,883.5h0M622.5,873.2h0M682.7,878.7h0M618.6,878.1h0M692.9,877.9h0M692.9,878.0h0M618.0,878.9h0M721.4,876.6h0M614.2,874.8h0M627.2,875.9h0M671.9,876.0h0M671.7,878.3h0M633.3,877.3h0M652.5,875.2h0M629.1,875.7h0M642.9,877.0h0M703.9,877.3h0M671.4,880.5h0M592.1,880.5h0M557.9,881.6h0M679.6,883.0h0M698.7,876.2h0M646.7,878.6h0M720.9,876.4h0M717.4,877.0h0M609.5,880.3h0M643.9,882.4h0M603.8,873.8h0M592.6,880.1h0M659.3,882.4h0M640.4,879.0h0M604.4,874.4h0M662.1,879.5h0M633.9,883.7h0M645.0,873.9h0M632.4,882.4h0M647.2,878.0h0M606.9,878.9h0M632.0,877.3h0M651.0,877.3h0M646.2,879.6h0M716.1,878.0h0M621.6,874.7h0M611.8,875.1h0M529.2,879.5h0M698.1,880.5h0M736.1,878.1h0M562.6,879.8h0M641.7,876.2h0M619.5,878.8h0M686.1,877.2h0M550.7,881.0h0M687.8,877.8h0M711.3,877.1h0M636.7,880.0h0M657.7,875.4h0M627.7,876.8h0M609.1,878.0h0M630.7,880.3h0M677.4,871.6h0M613.2,881.4h0M669.6,871.1h0M550.1,879.9h0M623.4,875.8h0M625.0,878.2h0M604.8,877.5h0M653.1,881.3h0M633.6,874.1h0M691.7,876.2h0M699.7,878.2h0M574.2,879.6h0M606.6,884.0h0M666.2,880.1h0M648.5,879.2h0M623.0,878.8h0M699.8,877.2h0M723.0,878.6h0M627.2,881.8h0M635.0,880.6h0M751.0,877.4h0M601.9,877.6h0M656.8,879.6h0M634.9,875.9h0M599.4,874.7h0M601.8,873.8h0M613.6,877.7h0M597.4,874.4h0M641.1,877.4h0M622.1,877.7h0M653.0,878.1h0M605.8,881.6h0M618.7,874.2h0M531.5,881.0h0M597.5,873.4h0M533.9,880.8h0M653.4,878.1h0M673.5,884.6h0M685.3,878.6h0M662.5,878.6h0M670.5,880.3h0M630.7,876.7h0M666.4,874.4h0M665.7,876.5h0M660.5,875.6h0M634.5,875.0h0M682.1,877.1h0M701.6,876.9h0M707.8,877.4h0M623.4,877.0h0M631.0,880.3h0M614.7,873.0h0M659.9,871.6h0M663.6,874.6h0M597.6,880.0h0M681.6,877.4h0M616.5,877.3h0M632.2,879.1h0M687.1,879.9h0M708.1,878.5h0M657.3,877.1h0M722.6,877.6h0M651.1,880.1h0M701.5,877.3h0M651.9,878.0h0M706.6,879.4h0M698.6,878.2h0M609.1,877.8h0M544.4,881.3h0M617.4,876.4h0M651.0,874.2h0M705.6,876.1h0M684.6,876.4h0M688.7,873.5h0M588.7,874.1h0M656.8,877.4h0M623.3,874.0h0M622.1,879.5h0M654.0,882.1h0M569.3,875.4h0M553.4,879.4h0M605.9,883.7h0M650.2,879.2h0M591.7,880.1h0M635.0,871.4h0M655.5,875.2h0M612.1,882.1h0M634.5,880.4h0M675.5,883.2h0M656.5,878.3h0M689.0,878.1h0M649.1,881.0h0M608.9,879.3h0M646.9,872.2h0M684.5,876.1h0M535.6,883.5h0M668.7,876.3h0M648.5,873.7h0M688.4,876.2h0M704.3,878.6h0M686.2,879.0h0M631.1,871.3h0M635.3,880.0h0M620.8,876.4h0M601.7,874.4h0M653.0,873.8h0M617.1,880.2h0M643.3,881.6h0M614.4,876.0h0M655.5,877.2h0M635.5,873.8h0M639.7,878.9h0M591.6,873.3h0M723.1,877.3h0M661.0,880.3h0M613.8,879.2h0M625.2,873.3h0M606.1,878.4h0M650.1,882.2h0M723.9,877.0h0M652.6,879.0h0M685.8,876.8h0M670.1,878.0h0M678.9,878.3h0M590.6,878.2h0M649.5,873.9h0M713.7,876.4h0M701.8,877.8h0M698.6,877.2h0M668.9,883.7h0M645.0,878.1h0M611.3,875.2h0M563.1,875.1h0M630.9,877.5h0M611.6,879.7h0M590.7,880.9h0M645.4,876.1h0M709.6,876.9h0M685.7,880.8h0M629.0,878.3h0M677.2,874.8h0M723.7,876.9h0M663.8,878.5h0M648.9,878.9h0M583.7,877.8h0M609.6,880.3h0M708.9,877.8h0M691.8,878.6h0M710.2,877.6h0M685.9,877.4h0M663.1,884.3h0M610.1,877.3h0M618.2,881.6h0M678.8,878.6h0M633.2,876.9h0M604.9,878.0h0M567.4,879.5h0M616.9,881.5h0M573.7,880.5h0M596.5,878.8h0M680.9,878.8h0M642.0,876.2h0M672.9,873.4h0M531.0,884.8h0M624.7,880.1h0M659.7,873.8h0M646.5,878.3h0M584.8,881.2h0M614.6,884.4h0M663.3,873.6h0M640.7,877.0h0M670.7,879.9h0M699.4,880.1h0M691.6,879.9h0M660.2,876.0h0M704.4,876.3h0M628.2,872.1h0M665.3,880.1h0M608.2,878.4h0M652.3,877.6h0M610.4,878.1h0M634.3,879.0h0M677.7,874.3h0M650.0,877.4h0M632.2,878.2h0M623.2,875.7h0M649.7,877.0h0M657.5,871.0h0M675.0,876.6h0M640.1,878.1h0M660.1,883.1h0M638.7,880.2h0M661.6,875.2h0M593.9,875.8h0M638.0,880.9h0M685.0,877.0h0M599.9,874.3h0M652.4,881.0h0M592.0,879.7h0M642.6,875.3h0M650.4,876.3h0M618.6,877.7h0M629.0,875.1h0M628.9,877.6h0M541.6,878.6h0M658.8,875.9h0M652.1,876.8h0M566.5,881.0h0M626.6,877.0h0M644.8,882.0h0M630.2,874.9h0M712.8,878.7h0M618.8,879.3h0M615.6,883.1h0M688.4,875.3h0M624.6,875.9h0M630.6,879.2h0M598.5,878.5h0M593.1,879.0h0M585.0,879.2h0M555.4,881.1h0M602.0,876.8h0M549.1,881.3h0M613.6,879.5h0M628.1,875.9h0M665.9,883.8h0M543.7,878.4h0M668.7,875.3h0M679.6,877.7h0M653.8,879.0h0M670.3,877.2h0M647.5,880.0h0M578.5,877.3h0M696.6,880.7h0M727.3,876.9h0M580.9,877.3h0M672.2,882.5h0M724.0,876.4h0M608.1,871.9h0M651.1,878.7h0M605.8,874.3h0M735.8,877.5h0M559.9,882.1h0M719.3,877.0h0M698.6,875.2h0M636.0,880.4h0M602.4,882.7h0M613.4,882.1h0M638.1,876.4h0M611.1,878.9h0M623.5,876.6h0M687.7,877.8h0M675.8,877.9h0M616.4,879.1h0M623.2,878.1h0M531.3,881.2h0M615.2,882.8h0M731.2,877.0h0M608.2,876.3h0M656.9,881.2h0M648.9,878.3h0M603.7,879.7h0M643.5,880.6h0M626.8,877.6h0M626.7,875.3h0M665.9,878.3h0M600.7,876.2h0M595.7,882.5h0M658.3,875.0h0M642.0,871.8h0M712.2,875.9h0M695.0,876.4h0M646.0,878.1h0M677.7,872.7h0M635.2,876.1h0M663.5,878.2h0M673.6,882.5h0M655.6,878.3h0M709.3,876.6h0M597.8,873.9h0M665.6,874.2h0M651.7,877.4h0M667.5,877.0h0M617.3,882.5h0M668.9,881.0h0M604.1,880.5h0M608.8,879.9h0M566.0,878.9h0M669.1,878.9h0M618.7,876.7h0M685.5,880.3h0M686.1,880.3h0M677.9,875.5h0M681.4,876.3h0M665.2,877.8h0M678.8,878.2h0M602.5,873.1h0M645.0,877.5h0M669.6,880.6h0M574.2,874.1h0M626.0,876.7h0M626.9,878.1h0M622.8,878.2h0M649.3,879.1h0M624.9,876.9h0M629.8,877.5h0M685.2,878.1h0M637.6,877.0h0M664.6,876.9h0M633.0,881.5h0M622.3,876.9h0M622.3,877.5h0M639.7,871.3h0M634.6,877.5h0M636.9,884.9h0M683.8,878.5h0M769.7,877.6h0M621.1,875.7h0M634.9,878.6h0M633.1,878.0h0M681.5,883.0h0M605.3,880.2h0M608.2,881.3h0M655.0,880.9h0M635.2,877.5h0M592.7,875.1h0M640.1,877.3h0M635.2,877.7h0M565.7,880.3h0M728.4,878.1h0M686.9,874.0h0M623.6,880.1h0M650.6,873.6h0M676.7,875.9h0M627.3,875.2h0M698.3,875.0h0M705.0,879.8h0M568.4,876.3h0M626.9,882.6h0M670.9,883.4h0M624.1,874.4h0M672.9,875.1h0M682.9,876.5h0M557.2,885.4h0M644.3,876.5h0M646.3,879.2h0M662.7,878.9h0M627.1,877.8h0M673.9,878.2h0M646.6,879.9h0M652.3,878.5h0M612.7,876.8h0M678.1,875.4h0M594.6,880.8h0M533.0,883.1h0M637.9,875.4h0M607.8,875.6h0M625.1,879.5h0M544.1,884.2h0M654.4,873.3h0M710.8,875.5h0M608.8,874.3h0M656.0,879.4h0M607.3,879.3h0M632.3,878.2h0M707.7,876.8h0M629.8,878.3h0M631.2,878.3h0M619.3,876.4h0M648.1,877.0h0M655.2,875.6h0M632.3,878.2h0M670.4,878.8h0M641.1,878.6h0M672.9,880.5h0M728.9,877.7h0M608.5,874.8h0M689.3,873.8h0M618.7,874.1h0M663.5,878.7h0M672.5,879.0h0M654.7,876.4h0M692.0,877.1h0M592.1,878.0h0M679.8,872.8h0M687.5,878.1h0M588.8,881.9h0M589.6,881.4h0M636.2,876.3h0M606.6,876.8h0M673.8,879.2h0M676.3,877.3h0M664.5,874.7h0M629.4,876.8h0M603.5,878.9h0M666.7,883.6h0M666.9,875.9h0M626.3,872.6h0M624.2,883.0h0M627.6,876.5h0M654.1,876.9h0M628.1,876.7h0M640.5,884.7h0M622.5,876.3h0M659.5,877.7h0M573.1,881.3h0M597.5,875.2h0M660.3,879.7h0M699.8,880.6h0M664.6,879.7h0M724.8,876.3h0M612.5,872.8h0M707.2,876.3h0M636.9,872.7h0M603.8,870.8h0M683.9,874.2h0M608.9,880.7h0M684.0,882.1h0M581.0,873.6h0M641.7,883.9h0M729.5,876.9h0M619.7,876.8h0M672.0,875.4h0M594.0,876.0h0M698.2,878.0h0M680.7,877.3h0M642.7,871.2h0M608.3,878.4h0M650.4,879.4h0M606.8,882.2h0M645.8,880.2h0M650.8,875.5h0M608.6,875.9h0M713.4,876.8h0M663.1,879.2h0M617.5,875.7h0M610.8,882.5h0M661.0,879.1h0M666.4,876.2h0M532.6,880.8h0M659.8,881.6h0M623.5,879.7h0M568.7,881.2h0M651.5,878.5h0M627.5,881.5h0M603.1,883.9h0M626.8,871.8h0M707.6,878.2h0M580.5,873.6h0M667.0,876.7h0M684.3,878.8h0M666.3,879.4h0M618.0,882.2h0M645.0,880.2h0M721.2,877.7h0M690.0,878.0h0M610.3,884.2h0M597.1,882.6h0M655.7,876.3h0M651.7,876.6h0M626.9,878.9h0M611.5,876.3h0M622.3,876.7h0M573.1,880.5h0M632.4,873.1h0M648.1,876.8h0M669.8,875.8h0M689.6,877.0h0M611.5,878.2h0M706.0,877.1h0M632.5,879.4h0M665.2,878.1h0M632.7,876.8h0M657.6,876.7h0M640.5,882.6h0M679.6,877.5h0M603.3,874.7h0M691.7,877.6h0M567.1,879.2h0M624.8,879.2h0M635.5,877.9h0M617.4,881.6h0M588.1,880.0h0M622.5,878.5h0M665.5,876.9h0M631.5,876.6h0M663.9,874.2h0M646.2,883.3h0M710.1,877.3h0M658.7,883.7h0M623.3,879.8h0M765.6,876.8h0M529.8,883.2h0M599.6,873.4h0M720.0,877.5h0M573.9,877.0h0M725.5,877.0h0M674.1,879.7h0M637.0,871.9h0M686.5,877.9h0M635.6,883.8h0M650.3,878.8h0M619.8,879.4h0M695.0,876.5h0M672.4,882.0h0M639.1,875.0h0M636.3,879.9h0M714.4,876.4h0M634.5,878.6h0M552.0,876.4h0M668.1,878.1h0M649.6,874.1h0M680.0,883.7h0M590.7,877.9h0M632.9,875.6h0M612.9,874.8h0M670.9,879.9h0M648.7,875.9h0M617.5,877.4h0M665.6,876.8h0M688.9,877.1h0M612.2,877.7h0M655.6,879.4h0M637.0,877.3h0M644.0,871.0h0M600.5,874.8h0M697.1,876.7h0M695.6,877.4h0M639.9,878.7h0M650.0,880.3h0M611.6,877.4h0M635.5,874.9h0M656.1,876.8h0M637.0,872.7h0M599.9,875.1h0M620.1,879.5h0M648.3,879.5h0M636.5,881.4h0M637.1,883.4h0M617.7,881.3h0M666.7,876.1h0M636.2,877.1h0M588.4,884.0h0M638.5,875.3h0M620.9,876.6h0M623.7,873.5h0M670.3,876.9h0M715.3,879.6h0M651.0,878.5h0M640.4,877.7h0M701.9,875.7h0M610.0,880.0h0M597.0,879.2h0M687.2,875.3h0M727.3,878.1h0M642.4,877.4h0M604.5,874.7h0M696.0,877.8h0M629.1,883.0h0M684.5,878.9h0M665.2,874.0h0M624.7,879.0h0M692.9,878.0h0M736.9,878.3h0M650.0,878.2h0M636.4,877.5h0M607.9,875.1h0M633.2,873.7h0M615.3,871.8h0M700.0,877.6h0M637.3,878.9h0M654.7,880.2h0M635.9,881.7h0M650.8,878.1h0M649.9,876.9h0M683.9,877.6h0M651.1,874.9h0M618.3,881.3h0M657.7,880.6h0M603.2,873.7h0M666.9,875.0h0M623.6,873.5h0M629.4,878.9h0M667.4,876.4h0M596.8,879.7h0M657.3,874.7h0M610.4,876.3h0M653.4,872.4h0M698.2,877.6h0M548.8,880.9h0M696.1,878.7h0M615.1,875.9h0M671.1,871.7h0M696.9,876.2h0M618.8,877.4h0M673.7,881.1h0M634.6,875.2h0M637.3,874.6h0M705.6,875.4h0M618.6,881.8h0M622.2,882.3h0M594.7,876.3h0M627.4,877.4h0M667.2,876.3h0M658.6,879.5h0M535.0,880.5h0M606.5,876.9h0M638.5,879.2h0M689.1,878.2h0M593.1,878.3h0M704.0,875.7h0M600.2,878.0h0M689.2,878.5h0M655.8,878.2h0M637.6,880.1h0M616.3,871.8h0M692.5,880.8h0M620.5,878.8h0M685.9,877.1h0M662.5,875.7h0M732.7,877.2h0M639.6,881.3h0M663.4,874.9h0M661.2,876.3h0M659.1,882.9h0M613.4,870.8h0M689.4,877.7h0M663.4,877.9h0M630.3,882.8h0M650.2,879.1h0M541.0,882.6h0M621.1,880.3h0M653.7,876.0h0M639.9,877.8h0M714.7,875.2h0M681.3,882.7h0M611.6,877.6h0M715.8,876.9h0M682.5,877.6h0M624.0,875.6h0M583.0,878.5h0M671.0,879.5h0M633.3,875.9h0M589.4,879.8h0M637.1,877.4h0M544.4,874.7h0M613.5,879.0h0M619.8,874.3h0M615.3,881.6h0M609.6,871.0h0M740.1,877.6h0M640.8,875.4h0M629.3,877.4h0M608.6,877.2h0M662.6,878.5h0M684.5,875.2h0M685.2,878.4h0M623.9,877.0h0M609.4,875.8h0M543.9,880.3h0M630.8,881.1h0M545.9,881.7h0M677.9,878.4h0M613.1,876.2h0M601.3,872.1h0M601.2,878.5h0M639.6,871.0h0M630.6,876.6h0M624.9,878.0h0M621.7,878.3h0M611.6,884.2h0M558.2,878.7h0M597.7,878.6h0M670.6,877.3h0M670.1,877.5h0M675.8,882.3h0M675.0,879.8h0M689.7,880.5h0M618.9,879.4h0M635.0,878.6h0M664.4,884.4h0M642.2,878.0h0M665.4,880.1h0M665.9,880.6h0M620.3,870.8h0M657.0,879.6h0M617.1,881.1h0M605.2,877.4h0M632.0,879.6h0M687.3,875.1h0M663.3,879.6h0M620.7,874.3h0M617.1,883.7h0M687.3,878.0h0M614.0,874.6h0M607.3,873.9h0M624.6,883.7h0M661.0,872.3h0M564.5,881.3h0M616.7,884.4h0M611.2,876.7h0M624.7,876.8h0M728.1,877.6h0M657.6,876.7h0M633.0,875.8h0M671.6,877.6h0M679.8,874.5h0M684.3,877.8h0M642.6,876.1h0M626.2,877.4h0M672.5,873.5h0M672.6,875.7h0M610.5,882.5h0M647.7,880.6h0M611.5,877.8h0M686.9,873.8h0M636.4,879.2h0M766.0,877.0h0M682.6,875.1h0M641.9,876.4h0M626.3,875.7h0M661.1,873.6h0M583.7,881.5h0M696.4,881.3h0M659.2,878.8h0M681.4,873.2h0M583.9,880.7h0M615.6,874.6h0M694.0,877.2h0M640.4,879.8h0M634.5,877.3h0M646.4,877.9h0M681.3,880.1h0M681.2,882.0h0M604.8,876.9h0M613.7,880.3h0M664.1,881.9h0M668.0,879.8h0M614.3,882.0h0M656.1,875.4h0M617.4,874.9h0M614.1,877.4h0M622.4,879.7h0M689.5,877.4h0M628.6,880.1h0M651.1,877.6h0M529.9,880.2h0M589.9,880.3h0M647.5,875.8h0M632.9,884.1h0M686.1,877.0h0M623.4,877.1h0M545.6,878.9h0M619.4,880.8h0M645.7,876.2h0M680.8,873.7h0M618.1,871.0h0M650.8,872.5h0M676.3,878.2h0M622.4,879.4h0M701.4,880.6h0M662.5,879.1h0M670.5,876.7h0M610.1,878.4h0M599.1,879.8h0M596.2,874.9h0M615.3,872.3h0M617.7,878.6h0M702.3,874.9h0M671.2,871.2h0M615.6,876.1h0M619.3,874.0h0M723.4,875.8h0M698.7,875.3h0M629.9,884.1h0M750.8,877.6h0M649.5,881.8h0M643.3,882.4h0M679.5,876.5h0M614.8,875.6h0M718.4,879.5h0M618.4,875.7h0M564.7,884.1h0M664.1,878.7h0M654.0,879.6h0M643.8,878.4h0M608.5,879.1h0M623.2,883.9h0M710.8,876.0h0M686.6,882.1h0M583.4,880.4h0M603.1,878.5h0M634.6,879.0h0M662.4,879.0h0M643.6,875.5h0M602.0,877.7h0M630.1,872.2h0M680.8,877.7h0M635.7,877.3h0M669.0,875.0h0M599.8,876.9h0M632.6,879.9h0M633.3,873.3h0M609.6,876.7h0M622.9,872.2h0M689.5,881.3h0M683.0,878.9h0M618.4,879.6h0M634.2,880.5h0M616.4,876.6h0M648.9,871.6h0M680.1,880.2h0M604.1,882.9h0M617.2,879.0h0M673.8,882.3h0M665.2,872.3h0M628.1,883.3h0M668.7,877.1h0M648.9,881.5h0M602.4,878.7h0M556.3,879.5h0M690.4,878.5h0M668.6,877.9h0M631.6,881.4h0M696.7,878.2h0M699.5,876.6h0M639.5,880.3h0M645.4,877.6h0M644.6,876.3h0M563.2,883.4h0M643.2,878.1h0M609.5,879.3h0M641.8,878.3h0M653.7,871.6h0M596.4,879.0h0M620.3,870.8h0M704.7,879.2h0M642.1,884.7h0M675.9,876.0h0M634.9,877.4h0M685.5,875.6h0M534.5,881.2h0M614.8,881.9h0M617.1,876.8h0M633.2,882.4h0M623.2,871.7h0M642.0,883.6h0M719.5,878.7h0M598.9,879.0h0M711.7,876.1h0M665.9,877.3h0M675.3,874.4h0M633.1,875.0h0M702.5,877.5h0M597.5,875.4h0M648.8,872.8h0M701.8,880.6h0M650.3,878.7h0M617.3,878.2h0M619.2,878.9h0M673.6,880.7h0M673.6,875.6h0M608.8,876.3h0M611.9,877.4h0M657.7,875.7h0M660.0,877.7h0M610.9,880.2h0M683.0,876.6h0M676.5,879.5h0M684.0,879.9h0M629.9,876.5h0M617.1,873.8h0M642.3,877.6h0M675.4,877.6h0M697.4,876.9h0M535.2,880.0h0M685.4,875.7h0M641.0,876.4h0M634.3,874.6h0M637.7,876.7h0M637.0,874.4h0M635.0,873.0h0M695.1,877.6h0M612.7,880.0h0M622.3,883.4h0M598.0,880.2h0M641.0,877.8h0M637.5,876.2h0M541.9,882.7h0M673.7,876.0h0M637.8,873.9h0M635.3,876.5h0M619.0,879.0h0M602.3,883.5h0M541.6,880.8h0M657.4,879.8h0M637.3,884.0h0M579.7,878.9h0M745.0,877.1h0M606.7,880.6h0M615.4,877.3h0M692.0,876.8h0M600.2,876.1h0M590.0,884.6h0M645.5,880.0h0M681.8,878.5h0M693.5,877.0h0M617.4,878.7h0M633.6,878.6h0M627.3,877.7h0M589.0,878.2h0M596.2,877.6h0M660.5,884.7h0M618.5,877.7h0M654.9,880.4h0M632.8,879.7h0M654.0,872.7h0M691.4,878.1h0M581.9,878.7h0M693.9,875.8h0M633.2,876.3h0M674.0,878.2h0M654.1,884.2h0M656.4,877.0h0M679.4,875.9h0M628.7,877.7h0M622.2,878.5h0M545.0,880.5h0M730.8,878.8h0M694.5,877.9h0M557.1,877.8h0M637.7,882.9h0M638.9,879.4h0M690.4,877.0h0M618.2,882.5h0M644.1,882.0h0M583.4,878.6h0M619.1,876.8h0M683.6,875.6h0M606.2,883.7h0M668.1,874.5h0M667.1,877.7h0M679.9,873.3h0M575.8,878.9h0M589.3,880.2h0M622.8,879.1h0M630.0,872.1h0M604.4,875.2h0M686.0,876.3h0M625.4,878.9h0M617.2,880.0h0M662.2,877.7h0M655.3,875.4h0M702.3,877.4h0M678.4,876.0h0M636.3,874.7h0M599.8,879.3h0M642.5,880.1h0M625.5,876.3h0M626.1,876.9h0M606.3,879.7h0M616.0,877.0h0M615.0,881.7h0M625.6,881.1h0M599.2,876.5h0M601.0,876.6h0M618.1,873.9h0M720.7,876.9h0M678.8,880.9h0M658.8,879.5h0M671.3,880.8h0M668.2,881.4h0M630.5,878.4h0M660.7,882.2h0M664.5,878.9h0M690.2,876.0h0M618.3,871.5h0M660.4,877.4h0M622.1,876.9h0M588.3,880.0h0M673.4,874.3h0M695.4,876.1h0M606.6,871.4h0M626.6,876.1h0M642.9,876.5h0M626.7,875.5h0M677.8,879.3h0M613.6,876.4h0M607.9,880.0h0M618.0,877.8h0M602.8,878.9h0M645.5,879.4h0M569.8,880.4h0M629.7,878.6h0M599.9,880.8h0M612.4,876.6h0M620.8,878.6h0M668.2,875.6h0M633.4,882.9h0M656.5,874.0h0M627.3,881.3h0M668.3,880.3h0M648.4,875.8h0M546.3,879.6h0M646.2,878.6h0M610.0,874.1h0M705.0,876.3h0M736.5,877.7h0M594.4,875.7h0M662.1,883.4h0M602.7,882.9h0M628.8,876.1h0M665.3,873.6h0M620.0,878.6h0M638.2,878.1h0M656.4,878.4h0M673.6,872.6h0M665.5,871.7h0M582.2,880.9h0M619.7,876.2h0M650.6,883.3h0M620.7,875.2h0M564.8,878.9h0M658.2,874.9h0M630.8,876.6h0M720.5,876.9h0M631.3,879.7h0M563.5,879.6h0M613.4,875.9h0M698.7,879.2h0M605.5,876.8h0M648.6,877.2h0M604.4,873.5h0M708.2,877.9h0M664.1,879.9h0M662.0,876.9h0M630.7,877.1h0M608.5,879.0h0M670.9,881.7h0M653.8,878.5h0M529.4,881.0h0M633.6,876.9h0M628.8,881.1h0M627.7,871.2h0M646.0,881.2h0M646.5,873.8h0M595.5,874.1h0M590.6,880.5h0M588.2,877.9h0M607.9,884.3h0M745.8,878.3h0M668.0,879.4h0M563.8,876.4h0M696.2,878.6h0M594.9,877.2h0M723.2,877.4h0M693.4,879.4h0M536.1,881.3h0M687.5,876.6h0M709.2,880.1h0M591.6,877.7h0M700.5,874.1h0M647.2,880.5h0M653.5,877.2h0M638.1,877.0h0M542.7,878.3h0M651.5,875.0h0M682.4,873.7h0M699.5,876.6h0M627.4,871.9h0M667.0,878.7h0M547.8,880.4h0M640.9,879.1h0M640.0,879.6h0M672.5,883.3h0M620.0,878.0h0M708.6,878.6h0M634.5,873.7h0M631.4,879.7h0M685.8,877.9h0M629.0,873.5h0M547.6,881.4h0M622.5,876.7h0M641.6,874.2h0M614.0,879.3h0M643.6,877.8h0M562.9,881.0h0M609.5,878.9h0M687.9,874.1h0M567.4,880.3h0M587.9,883.7h0M620.6,881.4h0M693.4,876.5h0M701.5,877.1h0M689.5,875.4h0M635.7,872.8h0M615.6,881.5h0M696.6,878.8h0M613.8,875.3h0M654.9,876.5h0M693.2,877.8h0M631.3,871.4h0M614.7,878.4h0M621.7,879.3h0M562.2,878.6h0M586.8,877.5h0M641.6,878.5h0M640.5,878.3h0M710.9,876.9h0M651.9,879.7h0M639.1,874.1h0M658.5,885.0h0M607.5,880.5h0M622.9,877.4h0M672.1,874.4h0M662.4,875.3h0M591.3,878.5h0M619.9,881.5h0M635.4,884.3h0M669.9,876.3h0M612.9,878.5h0M722.6,876.3h0M649.0,876.5h0M626.2,877.3h0M623.5,872.7h0M684.3,880.9h0M641.5,880.8h0M696.7,875.1h0M626.1,875.8h0M614.2,882.1h0M587.5,878.3h0M607.4,883.6h0M612.2,872.2h0M653.6,880.1h0M650.3,879.1h0M628.0,882.5h0M734.0,876.9h0M570.5,883.5h0M553.0,880.1h0M586.9,876.8h0M574.7,879.9h0M551.4,881.3h0M583.2,879.2h0M520.2,891.6h0M597.7,878.1h0M542.7,886.4h0M536.2,886.6h0M571.6,881.1h0M563.5,886.1h0M607.2,882.0h0M549.0,886.7h0M570.7,879.1h0M537.0,889.8h0M571.5,878.9h0M565.1,878.5h0M561.8,883.4h0M562.5,885.4h0M516.1,895.5h0M592.8,879.2h0M550.1,885.9h0M527.2,895.0h0M596.9,883.1h0M536.3,890.1h0M591.4,876.4h0M600.4,877.0h0M596.9,878.5h0M598.5,879.4h0M562.0,878.8h0M549.8,886.0h0M521.6,892.4h0M603.7,879.6h0M590.3,877.1h0M592.1,880.8h0M514.9,894.9h0M574.4,878.8h0M514.9,893.9h0M512.5,898.8h0M556.8,884.5h0M566.4,880.2h0M594.4,874.7h0M540.5,888.2h0M559.3,882.1h0M604.6,875.7h0M576.9,883.8h0M522.4,889.7h0M594.9,880.2h0M578.0,882.7h0" stroke="#9a9a9a" stroke-width="2.1" stroke-linecap="round" fill="none"/>
<path d="M480.5,907.2h0M486.2,913.1h0M493.9,918.8h0M486.3,922.9h0M494.7,924.9h0M482.9,928.8h0M493.9,929.3h0M492.2,933.9h0M494.7,932.7h0M495.8,934.2h0M486.2,941.8h0M498.7,940.9h0M499.9,953.2h0M490.9,962.8h0M490.5,971.6h0M494.1,990.4h0M509.5,894.2h0M512.1,899.5h0M513.2,899.1h0M516.0,900.2h0M516.9,897.6h0M524.0,891.3h0M500.6,856.8h0M515.2,859.7h0" stroke="#8e8e8e" stroke-width="2.1" stroke-linecap="round" fill="none"/>
<path d="M510.7,915.6h0M512.7,915.6h0M511.8,922.9h0M506.3,922.0h0M508.3,925.5h0M521.9,916.1h0M517.9,928.2h0M511.5,919.7h0M509.5,920.1h0M508.0,908.1h0M524.1,917.3h0M506.9,925.6h0M511.4,902.8h0M518.6,905.6h0M514.0,914.0h0M538.5,901.4h0M538.1,893.3h0M540.0,899.7h0M539.7,925.5h0M538.7,899.5h0M531.0,904.3h0M546.1,899.9h0M538.0,909.3h0M538.0,903.7h0M540.9,931.3h0M528.4,899.8h0M531.1,905.1h0M535.2,904.4h0M543.6,891.2h0M527.4,906.5h0M535.6,898.5h0M536.8,911.3h0M544.3,924.8h0M533.5,921.7h0M533.4,926.5h0M529.9,896.1h0M528.8,908.7h0M532.7,924.4h0M542.8,906.9h0M526.4,908.3h0M540.9,925.1h0M532.3,914.7h0M543.0,913.2h0M543.2,927.5h0M535.7,895.8h0M539.4,905.6h0M529.8,934.8h0M539.7,900.1h0M535.6,903.0h0M536.2,898.2h0M540.8,927.5h0M545.5,890.8h0M538.7,902.3h0M527.8,922.9h0M529.1,931.5h0M539.2,893.5h0M528.4,898.7h0M535.7,902.7h0M539.3,923.8h0M525.8,909.4h0M564.9,899.7h0M566.4,887.1h0M562.0,887.9h0M562.7,896.5h0M550.7,928.4h0M554.1,898.8h0M564.8,890.4h0M560.7,890.5h0M551.0,904.8h0M554.2,896.0h0M565.5,891.5h0M558.5,911.9h0M561.7,892.2h0M546.5,913.6h0M550.4,890.8h0M561.0,897.5h0M560.9,901.9h0M550.3,922.4h0M562.2,890.0h0M550.1,930.7h0M558.5,911.0h0M550.3,896.3h0M565.2,900.9h0M551.1,909.0h0M546.9,890.7h0M564.3,898.6h0M567.1,891.4h0M563.2,889.9h0M549.7,917.2h0M554.5,888.8h0M551.3,906.6h0M558.6,915.9h0M558.4,888.7h0M550.5,903.9h0M558.6,895.2h0M550.5,900.7h0M551.4,902.1h0M564.3,894.3h0M554.9,898.5h0M563.5,892.3h0M554.3,904.9h0M557.8,889.2h0M566.7,892.1h0M565.7,889.0h0M564.6,901.9h0M551.7,892.9h0M566.2,903.8h0M560.2,893.3h0M553.0,911.6h0M567.1,895.6h0M555.7,905.2h0M561.8,892.6h0M565.7,891.5h0M559.2,911.9h0M556.2,919.7h0M563.8,901.2h0M551.0,903.9h0M560.6,908.3h0M560.3,908.1h0M547.8,909.8h0M555.1,892.5h0M563.5,904.1h0M563.5,891.1h0M561.2,912.4h0M553.1,915.5h0M562.4,903.9h0M551.4,902.5h0M560.5,900.3h0M550.0,899.8h0M553.3,890.1h0M549.1,931.3h0M557.9,920.2h0M554.1,920.5h0M561.9,921.8h0M565.6,906.1h0M551.5,931.3h0M561.8,899.5h0M555.2,888.9h0M556.2,889.4h0M556.7,892.2h0M573.6,914.7h0M583.3,885.2h0M582.0,897.0h0M581.4,920.6h0M584.9,906.8h0M587.3,896.6h0M582.6,918.0h0M579.2,906.7h0M569.9,913.8h0M575.6,910.2h0M569.7,887.4h0M581.2,909.6h0M568.4,886.1h0M586.8,914.7h0M580.1,902.6h0M567.8,902.4h0M584.2,885.0h0M580.5,899.0h0M581.3,908.5h0M568.1,888.5h0M569.1,887.4h0M567.1,900.6h0M582.7,904.3h0M577.4,915.3h0M572.8,896.3h0M582.4,889.1h0M585.1,890.9h0M579.4,891.3h0M577.1,909.5h0M583.1,905.1h0M577.3,898.3h0M578.8,890.9h0M569.3,890.0h0M572.3,899.6h0M573.3,900.9h0M569.6,901.4h0M581.1,907.1h0M575.3,925.2h0M580.1,899.2h0M580.3,895.5h0M576.5,926.5h0M580.7,892.7h0M572.1,888.5h0M580.8,898.3h0M582.4,917.4h0M575.4,913.7h0M571.0,900.4h0M585.0,888.9h0M582.0,913.8h0M584.0,890.7h0M581.3,900.4h0M580.8,887.9h0M575.6,899.6h0M572.1,887.8h0M575.2,901.1h0M583.6,885.6h0M572.6,892.6h0M573.0,920.6h0M569.6,902.7h0M569.7,911.5h0M580.2,889.6h0M568.1,887.6h0M581.1,886.6h0M570.3,903.6h0M573.0,891.0h0M586.7,890.8h0M583.1,891.3h0M568.8,889.0h0M572.6,897.5h0M581.1,891.6h0M573.4,887.0h0M581.6,895.9h0M567.5,889.8h0M569.3,891.2h0M577.0,885.7h0M586.5,907.4h0M576.8,891.9h0M586.5,903.0h0M578.2,892.0h0M586.4,887.2h0M584.5,897.8h0M572.3,913.2h0M567.5,904.0h0M568.4,889.5h0M577.7,892.7h0M571.7,900.5h0M569.4,896.5h0M567.2,903.7h0M573.3,910.0h0M585.8,888.3h0M579.8,890.4h0M579.4,893.2h0M581.0,912.3h0M585.5,884.1h0M575.2,893.3h0M570.6,906.3h0M574.3,891.8h0M578.8,886.5h0M568.8,899.0h0M569.2,891.5h0M567.1,896.0h0M569.7,896.2h0M582.2,892.2h0M573.2,886.4h0M586.4,896.4h0M575.7,914.2h0M577.9,906.2h0M572.5,889.5h0M574.7,892.0h0M569.7,913.4h0M595.5,888.8h0M598.1,896.9h0M607.1,899.7h0M607.0,885.8h0M603.6,887.8h0M599.9,896.5h0M604.0,915.4h0M606.8,900.4h0M590.9,900.8h0M604.4,882.7h0M605.4,884.2h0M604.6,896.5h0M598.6,888.0h0M596.1,912.2h0M603.9,892.4h0M605.3,890.2h0M592.8,900.6h0M590.5,886.0h0M601.2,883.2h0M602.5,892.6h0M599.9,902.7h0M590.3,894.3h0M591.5,912.7h0M594.4,888.1h0M591.8,900.1h0M593.3,894.2h0M601.5,904.8h0M588.1,897.8h0M596.3,899.0h0M594.6,886.4h0M607.7,911.6h0M595.1,907.8h0M605.4,884.1h0M594.4,890.7h0M602.2,893.6h0M595.7,884.8h0M593.5,889.4h0M592.5,890.4h0M589.6,885.3h0M593.3,900.8h0M588.9,887.0h0M592.3,906.7h0M602.5,894.5h0M600.1,898.2h0M607.4,919.4h0M589.9,917.0h0M603.3,886.5h0M604.4,912.4h0M600.3,898.1h0M595.8,913.8h0M608.0,895.3h0M592.0,898.1h0M605.5,885.9h0M593.0,900.2h0M599.9,891.5h0M601.5,888.3h0M594.6,892.8h0M596.7,886.2h0M591.2,884.5h0M588.9,909.9h0M594.0,917.5h0M602.6,889.6h0M599.6,883.7h0M607.5,920.7h0M605.9,890.7h0M605.2,884.7h0M591.8,888.5h0M587.4,897.5h0M596.6,896.5h0M589.3,901.8h0M595.3,885.8h0M594.9,895.1h0M594.8,895.6h0M590.7,901.9h0M592.2,885.9h0M603.4,888.3h0M605.9,893.5h0M607.4,891.4h0M595.1,885.3h0M589.9,883.7h0M591.6,889.0h0M596.7,897.9h0M594.8,897.7h0M599.6,896.8h0M600.5,918.1h0M607.8,887.5h0M605.9,883.3h0M590.7,885.1h0M594.3,902.6h0M599.2,885.5h0M589.9,893.5h0M590.6,883.6h0M605.0,907.2h0M603.2,900.9h0M594.6,889.6h0M587.4,900.3h0M592.8,904.6h0M593.3,899.9h0M592.6,901.9h0M594.9,902.8h0M601.4,884.9h0M595.3,909.4h0M607.2,904.9h0M590.4,901.5h0M594.7,902.6h0M608.1,894.3h0M589.8,889.3h0M595.6,886.1h0M588.9,914.1h0M601.4,885.3h0M601.3,883.1h0M605.8,923.8h0M605.9,913.1h0M592.3,891.5h0M588.1,901.7h0M595.0,895.4h0M588.1,886.7h0M598.8,894.6h0M600.6,891.8h0M603.9,897.3h0M620.1,882.7h0M614.2,922.3h0M615.4,902.4h0M620.9,887.5h0M623.1,894.0h0M624.6,904.7h0M611.0,919.1h0M617.0,916.7h0M620.6,882.8h0M626.2,905.8h0M622.3,888.2h0M624.6,885.3h0M608.2,887.4h0M619.9,882.0h0M621.9,883.1h0M612.6,887.9h0M610.6,908.6h0M623.4,907.9h0M628.9,887.1h0M612.6,894.9h0M616.8,902.5h0M619.4,908.4h0M614.7,889.0h0M625.8,886.5h0M619.3,885.4h0M622.6,912.7h0M626.2,892.5h0M622.3,891.0h0M622.9,895.9h0M624.6,882.5h0M615.6,903.8h0M624.2,887.0h0M623.1,891.6h0M617.2,894.6h0M609.8,887.2h0M623.0,886.6h0M620.2,893.6h0M608.8,890.1h0M610.5,895.1h0M615.7,889.3h0M623.8,887.6h0M624.6,884.9h0M615.6,909.7h0M628.4,884.6h0M624.8,906.4h0M610.9,925.1h0M623.7,909.3h0M612.0,889.3h0M616.2,889.4h0M610.8,883.7h0M608.6,901.8h0M619.8,889.2h0M614.4,886.1h0M614.5,915.4h0M617.5,898.2h0M618.7,896.4h0M627.5,883.1h0M628.3,894.9h0M610.3,914.7h0M628.4,896.3h0M619.6,889.7h0M621.5,905.1h0M626.3,902.4h0M624.6,901.8h0M612.1,888.3h0M609.5,918.0h0M627.7,891.3h0M624.6,907.4h0M612.5,891.9h0M611.9,903.2h0M623.0,883.2h0M622.6,911.7h0M609.4,905.8h0M620.2,889.0h0M616.3,921.5h0M610.0,889.4h0M623.6,887.1h0M617.0,905.5h0M626.3,898.6h0M622.5,910.2h0M608.5,898.5h0M620.7,904.9h0M616.6,911.3h0M628.8,885.6h0M616.0,885.2h0M612.7,891.2h0M612.2,887.7h0M617.0,896.1h0M619.8,888.5h0M622.7,885.3h0M628.8,886.7h0M618.5,910.8h0M612.3,906.2h0M620.3,890.0h0M617.1,902.2h0M625.6,890.8h0M621.4,917.8h0M627.4,885.8h0M625.2,904.9h0M628.2,893.3h0M617.7,886.8h0M626.2,904.0h0M618.0,887.7h0M627.2,890.1h0M624.0,901.1h0M624.1,901.6h0M609.7,915.6h0M611.3,903.1h0M609.2,904.3h0M626.0,885.3h0M635.8,884.7h0M631.4,891.9h0M646.2,898.7h0M647.3,887.1h0M640.7,907.7h0M631.6,882.4h0M639.9,898.8h0M636.4,885.5h0M639.5,885.9h0M644.0,883.1h0M637.0,884.8h0M649.8,887.9h0M631.1,907.4h0M639.8,899.6h0M639.7,889.6h0M647.2,891.7h0M631.0,884.8h0M633.3,882.4h0M645.3,899.9h0M629.6,896.7h0M636.7,883.2h0M631.4,897.2h0M636.6,899.8h0M633.9,882.8h0M639.0,894.2h0M649.0,899.5h0M633.7,893.9h0M645.0,884.4h0M630.9,883.6h0M641.9,889.1h0M635.6,897.9h0M638.1,888.6h0M630.3,888.5h0M647.5,883.7h0M645.8,887.9h0M645.2,881.3h0M638.4,889.2h0M634.2,883.9h0M647.0,896.4h0M649.4,888.0h0M646.2,889.5h0M646.9,890.9h0M638.5,899.7h0M640.5,894.6h0M632.6,919.3h0M641.0,883.7h0M641.9,883.3h0M642.2,896.3h0M638.6,891.4h0M630.7,883.8h0M631.9,902.8h0M641.6,909.3h0M631.9,907.5h0M644.3,892.9h0M641.6,892.5h0M632.9,905.1h0M630.4,886.3h0M648.9,890.5h0M646.5,900.4h0M629.8,898.7h0M664.3,886.0h0M669.4,895.6h0M670.4,894.0h0M655.7,888.3h0M661.6,896.3h0M650.7,882.1h0M650.2,892.2h0M657.8,883.8h0M667.0,882.0h0M653.3,884.8h0M651.1,887.6h0M668.6,884.8h0M662.6,906.4h0M662.9,887.4h0M660.5,887.1h0M654.6,886.0h0M653.7,896.2h0M666.5,893.9h0M669.6,891.6h0M665.6,881.0h0M652.6,885.9h0M660.7,889.7h0M658.2,884.6h0M663.6,894.8h0M653.4,890.7h0M683.3,892.2h0M678.9,887.3h0M680.6,895.6h0M677.8,883.9h0M676.2,897.7h0M688.4,885.1h0M673.0,894.8h0M683.5,886.8h0M638.2,874.4h0M605.7,874.2h0M644.5,874.9h0M668.4,874.9h0M600.2,874.5h0M612.5,873.5h0M612.0,874.3h0M633.5,874.9h0M627.7,874.4h0M621.4,874.9h0M644.3,874.3h0M656.6,873.3h0M603.4,873.8h0M599.4,872.1h0M647.4,872.6h0M641.9,874.8h0M661.8,874.4h0M644.7,873.3h0M592.7,874.6h0M656.4,874.0h0M583.0,875.1h0M658.8,873.9h0M641.6,874.2h0M636.3,874.7h0M677.5,872.6h0M664.8,874.4h0M644.3,870.7h0M630.0,874.6h0M671.2,872.3h0M699.2,872.4h0M641.8,874.8h0M686.0,874.6h0M640.8,871.9h0M698.2,868.5h0M706.5,875.0h0M668.7,873.9h0M591.1,875.0h0M594.9,873.2h0M640.1,874.7h0M653.4,874.9h0M589.4,874.4h0M629.1,875.0h0M612.9,872.1h0M672.5,875.0h0M632.0,871.1h0M693.3,873.1h0M598.6,872.9h0M587.2,871.3h0M603.1,874.9h0M698.8,869.0h0M610.3,874.2h0M707.9,873.5h0M645.1,873.2h0M589.1,874.9h0M682.4,874.3h0M640.5,875.0h0M595.8,874.8h0M582.6,870.8h0M634.8,874.2h0M600.6,872.7h0M696.5,874.7h0M639.1,874.1h0M652.7,874.8h0M644.9,874.7h0M637.8,874.1h0M638.0,874.9h0M678.5,874.3h0M666.4,874.7h0M639.6,874.6h0M625.8,874.9h0M665.2,874.7h0M656.6,874.3h0M667.5,872.7h0M645.8,874.9h0M649.4,873.9h0M693.3,874.9h0M664.3,873.4h0M698.4,869.5h0M694.7,874.0h0M642.2,872.2h0M690.4,874.4h0M649.5,874.0h0M708.9,874.3h0M652.5,874.5h0M657.0,873.9h0M509.7,850.6h0M545.1,852.2h0M556.8,852.2h0M544.3,861.0h0M549.7,858.5h0M708.6,913.8h0M632.9,997.0h0M724.0,881.8h0M513.0,902.7h0M510.1,905.9h0M509.8,908.9h0M514.6,905.2h0M520.2,902.1h0M521.7,906.7h0M517.0,908.9h0M519.4,910.8h0M518.3,914.6h0M520.0,914.6h0M520.2,917.4h0M521.7,920.8h0M513.4,921.6h0M509.2,923.4h0M516.4,930.7h0M521.7,929.9h0M505.0,935.6h0" stroke="#fa2a22" stroke-width="2.35" stroke-linecap="round" fill="none"/>
<line x1="458.6" y1="877.2" x2="785.0" y2="877.2" stroke="#707070" stroke-width="2.4"/>
</g>
<rect x="458.6" y="737.5" width="326.4" height="279.79999999999995" fill="none" stroke="#646464" stroke-width="1.3"/>
<text x="449.00" y="985.80" font-size="16.2" text-anchor="end" font-weight="normal" font-style="normal" fill="#000" transform="translate(17.96,0) scale(0.96,1)">-4</text>
<text x="449.00" y="934.00" font-size="16.2" text-anchor="end" font-weight="normal" font-style="normal" fill="#000" transform="translate(17.96,0) scale(0.96,1)">-2</text>
<text x="449.00" y="882.20" font-size="16.2" text-anchor="end" font-weight="normal" font-style="normal" fill="#000" transform="translate(17.96,0) scale(0.96,1)">0</text>
<text x="449.00" y="830.40" font-size="16.2" text-anchor="end" font-weight="normal" font-style="normal" fill="#000" transform="translate(17.96,0) scale(0.96,1)">2</text>
<text x="449.00" y="778.60" font-size="16.2" text-anchor="end" font-weight="normal" font-style="normal" fill="#000" transform="translate(17.96,0) scale(0.96,1)">4</text>
<text x="482.50" y="1038.00" font-size="16.2" text-anchor="start" font-weight="normal" font-style="normal" fill="#000" transform="scale(0.96,1)">1</text>
<text x="535.42" y="1038.00" font-size="16.2" text-anchor="start" font-weight="normal" font-style="normal" fill="#000" transform="scale(0.96,1)">10</text>
<text x="587.40" y="1038.00" font-size="16.2" text-anchor="start" font-weight="normal" font-style="normal" fill="#000" transform="scale(0.96,1)">100</text>
<text x="642.40" y="1038.00" font-size="16.2" text-anchor="start" font-weight="normal" font-style="normal" fill="#000" transform="scale(0.96,1)">1,000</text>
<text x="691.77" y="1038.00" font-size="16.2" text-anchor="start" font-weight="normal" font-style="normal" fill="#000" transform="scale(0.96,1)">10,000</text>
<text x="749.69" y="1038.00" font-size="16.2" text-anchor="start" font-weight="normal" font-style="normal" fill="#000" transform="scale(0.96,1)">100,000</text>
<path d="M452.8,980.8H458.6M452.8,929.0H458.6M452.8,877.2H458.6M452.8,825.4H458.6M452.8,773.6H458.6M466.8,1017.3V1022.0M521.6,1017.3V1022.0M576.4,1017.3V1022.0M631.2,1017.3V1022.0M686.0,1017.3V1022.0M740.8,1017.3V1022.0" stroke="#646464" stroke-width="1.1" fill="none"/>
<text x="523.30" y="1056.80" font-size="15.0" text-anchor="start" font-weight="normal" font-style="normal" fill="#000" textLength="190.2" lengthAdjust="spacing">Mean of normalized counts</text>
<text transform="translate(430.6,865.1) rotate(-90)" x="0" y="0" font-size="16" text-anchor="middle">Log<tspan font-size="10" dy="4">2</tspan><tspan dy="-4"> Fold Change</tspan></text>
<text x="767.80" y="765.60" font-size="22.4" text-anchor="end" font-weight="normal" font-style="normal" fill="#000" >DEG: 746</text>
<text x="767.80" y="792.10" font-size="22.4" text-anchor="end" font-weight="normal" font-style="normal" fill="#000" >FDR &lt; 0.05</text>
</svg></body></html>
